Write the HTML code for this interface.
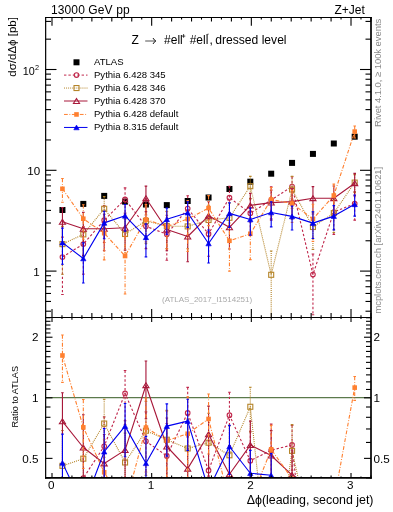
<!DOCTYPE html>
<html><head><meta charset="utf-8"><style>
html,body{margin:0;padding:0;background:#fff;width:393px;height:512px;overflow:hidden}
svg{display:block;will-change:transform;font-family:"Liberation Sans",sans-serif}
text{font-family:"Liberation Sans",sans-serif}
</style></head><body>
<svg width="393" height="512" viewBox="0 0 393 512">
<defs><clipPath id="cm"><rect x="45.5" y="17.5" width="325.5" height="300"/></clipPath><clipPath id="cr"><rect x="45.5" y="317.5" width="325.5" height="160.5"/></clipPath></defs>
<rect width="393" height="512" fill="#fff"/>
<g clip-path="url(#cm)">
<line x1="62.44" y1="208.28" x2="62.44" y2="211.79" stroke="#000" stroke-width="1.12"/>
<rect x="59.44" y="207.00" width="6.0" height="6.0" fill="#000"/>
<line x1="83.31" y1="202.18" x2="83.31" y2="205.69" stroke="#000" stroke-width="1.12"/>
<rect x="80.31" y="200.90" width="6.0" height="6.0" fill="#000"/>
<line x1="104.19" y1="194.18" x2="104.19" y2="197.69" stroke="#000" stroke-width="1.12"/>
<rect x="101.19" y="192.90" width="6.0" height="6.0" fill="#000"/>
<line x1="125.06" y1="199.88" x2="125.06" y2="203.39" stroke="#000" stroke-width="1.12"/>
<rect x="122.06" y="198.60" width="6.0" height="6.0" fill="#000"/>
<line x1="145.94" y1="202.78" x2="145.94" y2="206.29" stroke="#000" stroke-width="1.12"/>
<rect x="142.94" y="201.50" width="6.0" height="6.0" fill="#000"/>
<line x1="166.81" y1="203.38" x2="166.81" y2="206.89" stroke="#000" stroke-width="1.12"/>
<rect x="163.81" y="202.10" width="6.0" height="6.0" fill="#000"/>
<line x1="187.69" y1="199.28" x2="187.69" y2="202.79" stroke="#000" stroke-width="1.12"/>
<rect x="184.69" y="198.00" width="6.0" height="6.0" fill="#000"/>
<line x1="208.56" y1="195.78" x2="208.56" y2="199.29" stroke="#000" stroke-width="1.12"/>
<rect x="205.56" y="194.50" width="6.0" height="6.0" fill="#000"/>
<line x1="229.44" y1="187.28" x2="229.44" y2="190.79" stroke="#000" stroke-width="1.12"/>
<rect x="226.44" y="186.00" width="6.0" height="6.0" fill="#000"/>
<line x1="250.31" y1="179.98" x2="250.31" y2="183.49" stroke="#000" stroke-width="1.12"/>
<rect x="247.31" y="178.70" width="6.0" height="6.0" fill="#000"/>
<line x1="271.19" y1="171.98" x2="271.19" y2="175.49" stroke="#000" stroke-width="1.12"/>
<rect x="268.19" y="170.70" width="6.0" height="6.0" fill="#000"/>
<line x1="292.06" y1="161.18" x2="292.06" y2="164.69" stroke="#000" stroke-width="1.12"/>
<rect x="289.06" y="159.90" width="6.0" height="6.0" fill="#000"/>
<line x1="312.94" y1="152.18" x2="312.94" y2="155.69" stroke="#000" stroke-width="1.12"/>
<rect x="309.94" y="150.90" width="6.0" height="6.0" fill="#000"/>
<line x1="333.81" y1="141.78" x2="333.81" y2="145.29" stroke="#000" stroke-width="1.12"/>
<rect x="330.81" y="140.50" width="6.0" height="6.0" fill="#000"/>
<line x1="354.69" y1="134.98" x2="354.69" y2="138.49" stroke="#000" stroke-width="1.12"/>
<rect x="351.69" y="133.70" width="6.0" height="6.0" fill="#000"/>
<path d="M62.44 257.00 L83.31 244.10 L104.19 220.20 L125.06 199.40 L145.94 226.30 L166.81 234.20 L187.69 208.60 L208.56 233.90 L229.44 197.70 L250.31 213.20 L271.19 200.00 L292.06 186.50 L312.94 274.60 L333.81 212.00 L354.69 203.70" fill="none" stroke="#c0284c" stroke-width="1.12" stroke-dasharray="2.4 2" stroke-linejoin="round"/>
<line x1="62.44" y1="237.09" x2="62.44" y2="294.56" stroke="#c0284c" stroke-width="1.12" stroke-dasharray="2.4 2"/>
<line x1="61.14" y1="237.09" x2="63.74" y2="237.09" stroke="#c0284c" stroke-width="1.12"/>
<line x1="61.14" y1="294.56" x2="63.74" y2="294.56" stroke="#c0284c" stroke-width="1.12"/>
<line x1="83.31" y1="226.47" x2="83.31" y2="274.10" stroke="#c0284c" stroke-width="1.12" stroke-dasharray="2.4 2"/>
<line x1="82.01" y1="226.47" x2="84.61" y2="226.47" stroke="#c0284c" stroke-width="1.12"/>
<line x1="82.01" y1="274.10" x2="84.61" y2="274.10" stroke="#c0284c" stroke-width="1.12"/>
<line x1="104.19" y1="205.47" x2="104.19" y2="242.56" stroke="#c0284c" stroke-width="1.12" stroke-dasharray="2.4 2"/>
<line x1="102.89" y1="205.47" x2="105.49" y2="205.47" stroke="#c0284c" stroke-width="1.12"/>
<line x1="102.89" y1="242.56" x2="105.49" y2="242.56" stroke="#c0284c" stroke-width="1.12"/>
<line x1="125.06" y1="187.91" x2="125.06" y2="215.01" stroke="#c0284c" stroke-width="1.12" stroke-dasharray="2.4 2"/>
<line x1="123.76" y1="187.91" x2="126.36" y2="187.91" stroke="#c0284c" stroke-width="1.12"/>
<line x1="123.76" y1="215.01" x2="126.36" y2="215.01" stroke="#c0284c" stroke-width="1.12"/>
<line x1="145.94" y1="211.57" x2="145.94" y2="248.66" stroke="#c0284c" stroke-width="1.12" stroke-dasharray="2.4 2"/>
<line x1="144.64" y1="211.57" x2="147.24" y2="211.57" stroke="#c0284c" stroke-width="1.12"/>
<line x1="144.64" y1="248.66" x2="147.24" y2="248.66" stroke="#c0284c" stroke-width="1.12"/>
<line x1="166.81" y1="217.99" x2="166.81" y2="260.21" stroke="#c0284c" stroke-width="1.12" stroke-dasharray="2.4 2"/>
<line x1="165.51" y1="217.99" x2="168.11" y2="217.99" stroke="#c0284c" stroke-width="1.12"/>
<line x1="165.51" y1="260.21" x2="168.11" y2="260.21" stroke="#c0284c" stroke-width="1.12"/>
<line x1="187.69" y1="195.79" x2="187.69" y2="226.79" stroke="#c0284c" stroke-width="1.12" stroke-dasharray="2.4 2"/>
<line x1="186.39" y1="195.79" x2="188.99" y2="195.79" stroke="#c0284c" stroke-width="1.12"/>
<line x1="186.39" y1="226.79" x2="188.99" y2="226.79" stroke="#c0284c" stroke-width="1.12"/>
<line x1="208.56" y1="219.17" x2="208.56" y2="256.26" stroke="#c0284c" stroke-width="1.12" stroke-dasharray="2.4 2"/>
<line x1="207.26" y1="219.17" x2="209.86" y2="219.17" stroke="#c0284c" stroke-width="1.12"/>
<line x1="207.26" y1="256.26" x2="209.86" y2="256.26" stroke="#c0284c" stroke-width="1.12"/>
<line x1="229.44" y1="186.21" x2="229.44" y2="213.31" stroke="#c0284c" stroke-width="1.12" stroke-dasharray="2.4 2"/>
<line x1="228.14" y1="186.21" x2="230.74" y2="186.21" stroke="#c0284c" stroke-width="1.12"/>
<line x1="228.14" y1="213.31" x2="230.74" y2="213.31" stroke="#c0284c" stroke-width="1.12"/>
<line x1="250.31" y1="198.47" x2="250.31" y2="235.56" stroke="#c0284c" stroke-width="1.12" stroke-dasharray="2.4 2"/>
<line x1="249.01" y1="198.47" x2="251.61" y2="198.47" stroke="#c0284c" stroke-width="1.12"/>
<line x1="249.01" y1="235.56" x2="251.61" y2="235.56" stroke="#c0284c" stroke-width="1.12"/>
<line x1="271.19" y1="186.86" x2="271.19" y2="218.86" stroke="#c0284c" stroke-width="1.12" stroke-dasharray="2.4 2"/>
<line x1="269.89" y1="186.86" x2="272.49" y2="186.86" stroke="#c0284c" stroke-width="1.12"/>
<line x1="269.89" y1="218.86" x2="272.49" y2="218.86" stroke="#c0284c" stroke-width="1.12"/>
<line x1="292.06" y1="176.70" x2="292.06" y2="199.15" stroke="#c0284c" stroke-width="1.12" stroke-dasharray="2.4 2"/>
<line x1="290.76" y1="176.70" x2="293.36" y2="176.70" stroke="#c0284c" stroke-width="1.12"/>
<line x1="290.76" y1="199.15" x2="293.36" y2="199.15" stroke="#c0284c" stroke-width="1.12"/>
<line x1="312.94" y1="254.02" x2="312.94" y2="314.71" stroke="#c0284c" stroke-width="1.12" stroke-dasharray="2.4 2"/>
<line x1="311.64" y1="254.02" x2="314.24" y2="254.02" stroke="#c0284c" stroke-width="1.12"/>
<line x1="311.64" y1="314.71" x2="314.24" y2="314.71" stroke="#c0284c" stroke-width="1.12"/>
<line x1="333.81" y1="197.27" x2="333.81" y2="234.36" stroke="#c0284c" stroke-width="1.12" stroke-dasharray="2.4 2"/>
<line x1="332.51" y1="197.27" x2="335.11" y2="197.27" stroke="#c0284c" stroke-width="1.12"/>
<line x1="332.51" y1="234.36" x2="335.11" y2="234.36" stroke="#c0284c" stroke-width="1.12"/>
<line x1="354.69" y1="191.78" x2="354.69" y2="220.13" stroke="#c0284c" stroke-width="1.12" stroke-dasharray="2.4 2"/>
<line x1="353.39" y1="191.78" x2="355.99" y2="191.78" stroke="#c0284c" stroke-width="1.12"/>
<line x1="353.39" y1="220.13" x2="355.99" y2="220.13" stroke="#c0284c" stroke-width="1.12"/>
<circle cx="62.44" cy="257.00" r="2.3" fill="none" stroke="#c0284c" stroke-width="1.1"/>
<circle cx="83.31" cy="244.10" r="2.3" fill="none" stroke="#c0284c" stroke-width="1.1"/>
<circle cx="104.19" cy="220.20" r="2.3" fill="none" stroke="#c0284c" stroke-width="1.1"/>
<circle cx="125.06" cy="199.40" r="2.3" fill="none" stroke="#c0284c" stroke-width="1.1"/>
<circle cx="145.94" cy="226.30" r="2.3" fill="none" stroke="#c0284c" stroke-width="1.1"/>
<circle cx="166.81" cy="234.20" r="2.3" fill="none" stroke="#c0284c" stroke-width="1.1"/>
<circle cx="187.69" cy="208.60" r="2.3" fill="none" stroke="#c0284c" stroke-width="1.1"/>
<circle cx="208.56" cy="233.90" r="2.3" fill="none" stroke="#c0284c" stroke-width="1.1"/>
<circle cx="229.44" cy="197.70" r="2.3" fill="none" stroke="#c0284c" stroke-width="1.1"/>
<circle cx="250.31" cy="213.20" r="2.3" fill="none" stroke="#c0284c" stroke-width="1.1"/>
<circle cx="271.19" cy="200.00" r="2.3" fill="none" stroke="#c0284c" stroke-width="1.1"/>
<circle cx="292.06" cy="186.50" r="2.3" fill="none" stroke="#c0284c" stroke-width="1.1"/>
<circle cx="312.94" cy="274.60" r="2.3" fill="none" stroke="#c0284c" stroke-width="1.1"/>
<circle cx="333.81" cy="212.00" r="2.3" fill="none" stroke="#c0284c" stroke-width="1.1"/>
<circle cx="354.69" cy="203.70" r="2.3" fill="none" stroke="#c0284c" stroke-width="1.1"/>
<path d="M62.44 244.10 L83.31 234.40 L104.19 208.80 L125.06 234.00 L145.94 221.00 L166.81 226.10 L187.69 226.40 L208.56 220.00 L229.44 217.80 L250.31 186.20 L271.19 274.80 L292.06 189.50 L312.94 227.00 L333.81 213.10 L354.69 182.60" fill="none" stroke="#b5852a" stroke-width="1.12" stroke-dasharray="1 1.05" stroke-linejoin="round"/>
<line x1="62.44" y1="226.41" x2="62.44" y2="274.27" stroke="#b5852a" stroke-width="1.12" stroke-dasharray="1 1.05"/>
<line x1="61.14" y1="226.41" x2="63.74" y2="226.41" stroke="#b5852a" stroke-width="1.12"/>
<line x1="61.14" y1="274.27" x2="63.74" y2="274.27" stroke="#b5852a" stroke-width="1.12"/>
<line x1="83.31" y1="219.67" x2="83.31" y2="256.76" stroke="#b5852a" stroke-width="1.12" stroke-dasharray="1 1.05"/>
<line x1="82.01" y1="219.67" x2="84.61" y2="219.67" stroke="#b5852a" stroke-width="1.12"/>
<line x1="82.01" y1="256.76" x2="84.61" y2="256.76" stroke="#b5852a" stroke-width="1.12"/>
<line x1="104.19" y1="196.65" x2="104.19" y2="225.68" stroke="#b5852a" stroke-width="1.12" stroke-dasharray="1 1.05"/>
<line x1="102.89" y1="196.65" x2="105.49" y2="196.65" stroke="#b5852a" stroke-width="1.12"/>
<line x1="102.89" y1="225.68" x2="105.49" y2="225.68" stroke="#b5852a" stroke-width="1.12"/>
<line x1="125.06" y1="219.27" x2="125.06" y2="256.36" stroke="#b5852a" stroke-width="1.12" stroke-dasharray="1 1.05"/>
<line x1="123.76" y1="219.27" x2="126.36" y2="219.27" stroke="#b5852a" stroke-width="1.12"/>
<line x1="123.76" y1="256.36" x2="126.36" y2="256.36" stroke="#b5852a" stroke-width="1.12"/>
<line x1="145.94" y1="206.27" x2="145.94" y2="243.36" stroke="#b5852a" stroke-width="1.12" stroke-dasharray="1 1.05"/>
<line x1="144.64" y1="206.27" x2="147.24" y2="206.27" stroke="#b5852a" stroke-width="1.12"/>
<line x1="144.64" y1="243.36" x2="147.24" y2="243.36" stroke="#b5852a" stroke-width="1.12"/>
<line x1="166.81" y1="211.37" x2="166.81" y2="248.46" stroke="#b5852a" stroke-width="1.12" stroke-dasharray="1 1.05"/>
<line x1="165.51" y1="211.37" x2="168.11" y2="211.37" stroke="#b5852a" stroke-width="1.12"/>
<line x1="165.51" y1="248.46" x2="168.11" y2="248.46" stroke="#b5852a" stroke-width="1.12"/>
<line x1="187.69" y1="211.67" x2="187.69" y2="248.76" stroke="#b5852a" stroke-width="1.12" stroke-dasharray="1 1.05"/>
<line x1="186.39" y1="211.67" x2="188.99" y2="211.67" stroke="#b5852a" stroke-width="1.12"/>
<line x1="186.39" y1="248.76" x2="188.99" y2="248.76" stroke="#b5852a" stroke-width="1.12"/>
<line x1="208.56" y1="205.27" x2="208.56" y2="242.36" stroke="#b5852a" stroke-width="1.12" stroke-dasharray="1 1.05"/>
<line x1="207.26" y1="205.27" x2="209.86" y2="205.27" stroke="#b5852a" stroke-width="1.12"/>
<line x1="207.26" y1="242.36" x2="209.86" y2="242.36" stroke="#b5852a" stroke-width="1.12"/>
<line x1="229.44" y1="203.07" x2="229.44" y2="240.16" stroke="#b5852a" stroke-width="1.12" stroke-dasharray="1 1.05"/>
<line x1="228.14" y1="203.07" x2="230.74" y2="203.07" stroke="#b5852a" stroke-width="1.12"/>
<line x1="228.14" y1="240.16" x2="230.74" y2="240.16" stroke="#b5852a" stroke-width="1.12"/>
<line x1="250.31" y1="176.40" x2="250.31" y2="198.85" stroke="#b5852a" stroke-width="1.12" stroke-dasharray="1 1.05"/>
<line x1="249.01" y1="176.40" x2="251.61" y2="176.40" stroke="#b5852a" stroke-width="1.12"/>
<line x1="249.01" y1="198.85" x2="251.61" y2="198.85" stroke="#b5852a" stroke-width="1.12"/>
<line x1="271.19" y1="250.98" x2="271.19" y2="331.00" stroke="#b5852a" stroke-width="1.12" stroke-dasharray="1 1.05"/>
<line x1="269.89" y1="250.98" x2="272.49" y2="250.98" stroke="#b5852a" stroke-width="1.12"/>
<line x1="269.89" y1="331.00" x2="272.49" y2="331.00" stroke="#b5852a" stroke-width="1.12"/>
<line x1="292.06" y1="176.36" x2="292.06" y2="208.36" stroke="#b5852a" stroke-width="1.12" stroke-dasharray="1 1.05"/>
<line x1="290.76" y1="176.36" x2="293.36" y2="176.36" stroke="#b5852a" stroke-width="1.12"/>
<line x1="290.76" y1="208.36" x2="293.36" y2="208.36" stroke="#b5852a" stroke-width="1.12"/>
<line x1="312.94" y1="212.27" x2="312.94" y2="249.36" stroke="#b5852a" stroke-width="1.12" stroke-dasharray="1 1.05"/>
<line x1="311.64" y1="212.27" x2="314.24" y2="212.27" stroke="#b5852a" stroke-width="1.12"/>
<line x1="311.64" y1="249.36" x2="314.24" y2="249.36" stroke="#b5852a" stroke-width="1.12"/>
<line x1="333.81" y1="199.70" x2="333.81" y2="232.50" stroke="#b5852a" stroke-width="1.12" stroke-dasharray="1 1.05"/>
<line x1="332.51" y1="199.70" x2="335.11" y2="199.70" stroke="#b5852a" stroke-width="1.12"/>
<line x1="332.51" y1="232.50" x2="335.11" y2="232.50" stroke="#b5852a" stroke-width="1.12"/>
<line x1="354.69" y1="174.62" x2="354.69" y2="192.37" stroke="#b5852a" stroke-width="1.12" stroke-dasharray="1 1.05"/>
<line x1="353.39" y1="174.62" x2="355.99" y2="174.62" stroke="#b5852a" stroke-width="1.12"/>
<line x1="353.39" y1="192.37" x2="355.99" y2="192.37" stroke="#b5852a" stroke-width="1.12"/>
<rect x="59.94" y="241.60" width="5.0" height="5.0" fill="none" stroke="#b5852a" stroke-width="1.1"/>
<rect x="80.81" y="231.90" width="5.0" height="5.0" fill="none" stroke="#b5852a" stroke-width="1.1"/>
<rect x="101.69" y="206.30" width="5.0" height="5.0" fill="none" stroke="#b5852a" stroke-width="1.1"/>
<rect x="122.56" y="231.50" width="5.0" height="5.0" fill="none" stroke="#b5852a" stroke-width="1.1"/>
<rect x="143.44" y="218.50" width="5.0" height="5.0" fill="none" stroke="#b5852a" stroke-width="1.1"/>
<rect x="164.31" y="223.60" width="5.0" height="5.0" fill="none" stroke="#b5852a" stroke-width="1.1"/>
<rect x="185.19" y="223.90" width="5.0" height="5.0" fill="none" stroke="#b5852a" stroke-width="1.1"/>
<rect x="206.06" y="217.50" width="5.0" height="5.0" fill="none" stroke="#b5852a" stroke-width="1.1"/>
<rect x="226.94" y="215.30" width="5.0" height="5.0" fill="none" stroke="#b5852a" stroke-width="1.1"/>
<rect x="247.81" y="183.70" width="5.0" height="5.0" fill="none" stroke="#b5852a" stroke-width="1.1"/>
<rect x="268.69" y="272.30" width="5.0" height="5.0" fill="none" stroke="#b5852a" stroke-width="1.1"/>
<rect x="289.56" y="187.00" width="5.0" height="5.0" fill="none" stroke="#b5852a" stroke-width="1.1"/>
<rect x="310.44" y="224.50" width="5.0" height="5.0" fill="none" stroke="#b5852a" stroke-width="1.1"/>
<rect x="331.31" y="210.60" width="5.0" height="5.0" fill="none" stroke="#b5852a" stroke-width="1.1"/>
<rect x="352.19" y="180.10" width="5.0" height="5.0" fill="none" stroke="#b5852a" stroke-width="1.1"/>
<path d="M62.44 221.80 L83.31 228.80 L104.19 228.80 L125.06 227.80 L145.94 198.20 L166.81 229.50 L187.69 236.50 L208.56 215.80 L229.44 227.30 L250.31 205.40 L271.19 202.60 L292.06 201.60 L312.94 198.20 L333.81 198.20 L354.69 183.20" fill="none" stroke="#a8183a" stroke-width="1.12" stroke-linejoin="round"/>
<line x1="62.44" y1="207.45" x2="62.44" y2="243.30" stroke="#a8183a" stroke-width="1.12"/>
<line x1="61.14" y1="207.45" x2="63.74" y2="207.45" stroke="#a8183a" stroke-width="1.12"/>
<line x1="61.14" y1="243.30" x2="63.74" y2="243.30" stroke="#a8183a" stroke-width="1.12"/>
<line x1="83.31" y1="212.38" x2="83.31" y2="255.37" stroke="#a8183a" stroke-width="1.12"/>
<line x1="82.01" y1="212.38" x2="84.61" y2="212.38" stroke="#a8183a" stroke-width="1.12"/>
<line x1="82.01" y1="255.37" x2="84.61" y2="255.37" stroke="#a8183a" stroke-width="1.12"/>
<line x1="104.19" y1="214.26" x2="104.19" y2="250.73" stroke="#a8183a" stroke-width="1.12"/>
<line x1="102.89" y1="214.26" x2="105.49" y2="214.26" stroke="#a8183a" stroke-width="1.12"/>
<line x1="102.89" y1="250.73" x2="105.49" y2="250.73" stroke="#a8183a" stroke-width="1.12"/>
<line x1="125.06" y1="213.07" x2="125.06" y2="250.16" stroke="#a8183a" stroke-width="1.12"/>
<line x1="123.76" y1="213.07" x2="126.36" y2="213.07" stroke="#a8183a" stroke-width="1.12"/>
<line x1="123.76" y1="250.16" x2="126.36" y2="250.16" stroke="#a8183a" stroke-width="1.12"/>
<line x1="145.94" y1="186.08" x2="145.94" y2="215.02" stroke="#a8183a" stroke-width="1.12"/>
<line x1="144.64" y1="186.08" x2="147.24" y2="186.08" stroke="#a8183a" stroke-width="1.12"/>
<line x1="144.64" y1="215.02" x2="147.24" y2="215.02" stroke="#a8183a" stroke-width="1.12"/>
<line x1="166.81" y1="215.24" x2="166.81" y2="250.78" stroke="#a8183a" stroke-width="1.12"/>
<line x1="165.51" y1="215.24" x2="168.11" y2="215.24" stroke="#a8183a" stroke-width="1.12"/>
<line x1="165.51" y1="250.78" x2="168.11" y2="250.78" stroke="#a8183a" stroke-width="1.12"/>
<line x1="187.69" y1="220.60" x2="187.69" y2="261.73" stroke="#a8183a" stroke-width="1.12"/>
<line x1="186.39" y1="220.60" x2="188.99" y2="220.60" stroke="#a8183a" stroke-width="1.12"/>
<line x1="186.39" y1="261.73" x2="188.99" y2="261.73" stroke="#a8183a" stroke-width="1.12"/>
<line x1="208.56" y1="201.70" x2="208.56" y2="236.73" stroke="#a8183a" stroke-width="1.12"/>
<line x1="207.26" y1="201.70" x2="209.86" y2="201.70" stroke="#a8183a" stroke-width="1.12"/>
<line x1="207.26" y1="236.73" x2="209.86" y2="236.73" stroke="#a8183a" stroke-width="1.12"/>
<line x1="229.44" y1="212.88" x2="229.44" y2="248.94" stroke="#a8183a" stroke-width="1.12"/>
<line x1="228.14" y1="212.88" x2="230.74" y2="212.88" stroke="#a8183a" stroke-width="1.12"/>
<line x1="228.14" y1="248.94" x2="230.74" y2="248.94" stroke="#a8183a" stroke-width="1.12"/>
<line x1="250.31" y1="193.41" x2="250.31" y2="221.96" stroke="#a8183a" stroke-width="1.12"/>
<line x1="249.01" y1="193.41" x2="251.61" y2="193.41" stroke="#a8183a" stroke-width="1.12"/>
<line x1="249.01" y1="221.96" x2="251.61" y2="221.96" stroke="#a8183a" stroke-width="1.12"/>
<line x1="271.19" y1="190.12" x2="271.19" y2="220.13" stroke="#a8183a" stroke-width="1.12"/>
<line x1="269.89" y1="190.12" x2="272.49" y2="190.12" stroke="#a8183a" stroke-width="1.12"/>
<line x1="269.89" y1="220.13" x2="272.49" y2="220.13" stroke="#a8183a" stroke-width="1.12"/>
<line x1="292.06" y1="189.12" x2="292.06" y2="219.13" stroke="#a8183a" stroke-width="1.12"/>
<line x1="290.76" y1="189.12" x2="293.36" y2="189.12" stroke="#a8183a" stroke-width="1.12"/>
<line x1="290.76" y1="219.13" x2="293.36" y2="219.13" stroke="#a8183a" stroke-width="1.12"/>
<line x1="312.94" y1="186.61" x2="312.94" y2="214.00" stroke="#a8183a" stroke-width="1.12"/>
<line x1="311.64" y1="186.61" x2="314.24" y2="186.61" stroke="#a8183a" stroke-width="1.12"/>
<line x1="311.64" y1="214.00" x2="314.24" y2="214.00" stroke="#a8183a" stroke-width="1.12"/>
<line x1="333.81" y1="186.05" x2="333.81" y2="215.08" stroke="#a8183a" stroke-width="1.12"/>
<line x1="332.51" y1="186.05" x2="335.11" y2="186.05" stroke="#a8183a" stroke-width="1.12"/>
<line x1="332.51" y1="215.08" x2="335.11" y2="215.08" stroke="#a8183a" stroke-width="1.12"/>
<line x1="354.69" y1="173.40" x2="354.69" y2="195.85" stroke="#a8183a" stroke-width="1.12"/>
<line x1="353.39" y1="173.40" x2="355.99" y2="173.40" stroke="#a8183a" stroke-width="1.12"/>
<line x1="353.39" y1="195.85" x2="355.99" y2="195.85" stroke="#a8183a" stroke-width="1.12"/>
<path d="M62.44 219.35 L65.49 224.25 L59.39 224.25 Z" fill="none" stroke="#a8183a" stroke-width="1.1" stroke-linejoin="miter"/>
<path d="M83.31 226.35 L86.36 231.25 L80.26 231.25 Z" fill="none" stroke="#a8183a" stroke-width="1.1" stroke-linejoin="miter"/>
<path d="M104.19 226.35 L107.24 231.25 L101.14 231.25 Z" fill="none" stroke="#a8183a" stroke-width="1.1" stroke-linejoin="miter"/>
<path d="M125.06 225.35 L128.11 230.25 L122.01 230.25 Z" fill="none" stroke="#a8183a" stroke-width="1.1" stroke-linejoin="miter"/>
<path d="M145.94 195.75 L148.99 200.65 L142.89 200.65 Z" fill="none" stroke="#a8183a" stroke-width="1.1" stroke-linejoin="miter"/>
<path d="M166.81 227.05 L169.86 231.95 L163.76 231.95 Z" fill="none" stroke="#a8183a" stroke-width="1.1" stroke-linejoin="miter"/>
<path d="M187.69 234.05 L190.74 238.95 L184.64 238.95 Z" fill="none" stroke="#a8183a" stroke-width="1.1" stroke-linejoin="miter"/>
<path d="M208.56 213.35 L211.61 218.25 L205.51 218.25 Z" fill="none" stroke="#a8183a" stroke-width="1.1" stroke-linejoin="miter"/>
<path d="M229.44 224.85 L232.49 229.75 L226.39 229.75 Z" fill="none" stroke="#a8183a" stroke-width="1.1" stroke-linejoin="miter"/>
<path d="M250.31 202.95 L253.36 207.85 L247.26 207.85 Z" fill="none" stroke="#a8183a" stroke-width="1.1" stroke-linejoin="miter"/>
<path d="M271.19 200.15 L274.24 205.05 L268.14 205.05 Z" fill="none" stroke="#a8183a" stroke-width="1.1" stroke-linejoin="miter"/>
<path d="M292.06 199.15 L295.11 204.05 L289.01 204.05 Z" fill="none" stroke="#a8183a" stroke-width="1.1" stroke-linejoin="miter"/>
<path d="M312.94 195.75 L315.99 200.65 L309.89 200.65 Z" fill="none" stroke="#a8183a" stroke-width="1.1" stroke-linejoin="miter"/>
<path d="M333.81 195.75 L336.86 200.65 L330.76 200.65 Z" fill="none" stroke="#a8183a" stroke-width="1.1" stroke-linejoin="miter"/>
<path d="M354.69 180.75 L357.74 185.65 L351.64 185.65 Z" fill="none" stroke="#a8183a" stroke-width="1.1" stroke-linejoin="miter"/>
<path d="M62.44 188.80 L83.31 218.70 L104.19 233.20 L125.06 256.00 L145.94 219.40 L166.81 226.50 L187.69 219.00 L208.56 208.10 L229.44 240.80 L250.31 233.80 L271.19 199.50 L292.06 203.50 L312.94 219.00 L333.81 195.50 L354.69 131.60" fill="none" stroke="#ff8030" stroke-width="1.12" stroke-dasharray="3.8 1.6 0.9 1.6" stroke-linejoin="round"/>
<line x1="62.44" y1="178.51" x2="62.44" y2="202.28" stroke="#ff8030" stroke-width="1.12" stroke-dasharray="3.8 1.6 0.9 1.6"/>
<line x1="61.14" y1="178.51" x2="63.74" y2="178.51" stroke="#ff8030" stroke-width="1.12"/>
<line x1="61.14" y1="202.28" x2="63.74" y2="202.28" stroke="#ff8030" stroke-width="1.12"/>
<line x1="83.31" y1="204.76" x2="83.31" y2="239.28" stroke="#ff8030" stroke-width="1.12" stroke-dasharray="3.8 1.6 0.9 1.6"/>
<line x1="82.01" y1="204.76" x2="84.61" y2="204.76" stroke="#ff8030" stroke-width="1.12"/>
<line x1="82.01" y1="239.28" x2="84.61" y2="239.28" stroke="#ff8030" stroke-width="1.12"/>
<line x1="104.19" y1="216.72" x2="104.19" y2="259.93" stroke="#ff8030" stroke-width="1.12" stroke-dasharray="3.8 1.6 0.9 1.6"/>
<line x1="102.89" y1="216.72" x2="105.49" y2="216.72" stroke="#ff8030" stroke-width="1.12"/>
<line x1="102.89" y1="259.93" x2="105.49" y2="259.93" stroke="#ff8030" stroke-width="1.12"/>
<line x1="125.06" y1="235.98" x2="125.06" y2="293.98" stroke="#ff8030" stroke-width="1.12" stroke-dasharray="3.8 1.6 0.9 1.6"/>
<line x1="123.76" y1="235.98" x2="126.36" y2="235.98" stroke="#ff8030" stroke-width="1.12"/>
<line x1="123.76" y1="293.98" x2="126.36" y2="293.98" stroke="#ff8030" stroke-width="1.12"/>
<line x1="145.94" y1="204.67" x2="145.94" y2="241.76" stroke="#ff8030" stroke-width="1.12" stroke-dasharray="3.8 1.6 0.9 1.6"/>
<line x1="144.64" y1="204.67" x2="147.24" y2="204.67" stroke="#ff8030" stroke-width="1.12"/>
<line x1="144.64" y1="241.76" x2="147.24" y2="241.76" stroke="#ff8030" stroke-width="1.12"/>
<line x1="166.81" y1="211.77" x2="166.81" y2="248.86" stroke="#ff8030" stroke-width="1.12" stroke-dasharray="3.8 1.6 0.9 1.6"/>
<line x1="165.51" y1="211.77" x2="168.11" y2="211.77" stroke="#ff8030" stroke-width="1.12"/>
<line x1="165.51" y1="248.86" x2="168.11" y2="248.86" stroke="#ff8030" stroke-width="1.12"/>
<line x1="187.69" y1="200.56" x2="187.69" y2="251.50" stroke="#ff8030" stroke-width="1.12" stroke-dasharray="3.8 1.6 0.9 1.6"/>
<line x1="186.39" y1="200.56" x2="188.99" y2="200.56" stroke="#ff8030" stroke-width="1.12"/>
<line x1="186.39" y1="251.50" x2="188.99" y2="251.50" stroke="#ff8030" stroke-width="1.12"/>
<line x1="208.56" y1="195.62" x2="208.56" y2="225.63" stroke="#ff8030" stroke-width="1.12" stroke-dasharray="3.8 1.6 0.9 1.6"/>
<line x1="207.26" y1="195.62" x2="209.86" y2="195.62" stroke="#ff8030" stroke-width="1.12"/>
<line x1="207.26" y1="225.63" x2="209.86" y2="225.63" stroke="#ff8030" stroke-width="1.12"/>
<line x1="229.44" y1="223.05" x2="229.44" y2="271.14" stroke="#ff8030" stroke-width="1.12" stroke-dasharray="3.8 1.6 0.9 1.6"/>
<line x1="228.14" y1="223.05" x2="230.74" y2="223.05" stroke="#ff8030" stroke-width="1.12"/>
<line x1="228.14" y1="271.14" x2="230.74" y2="271.14" stroke="#ff8030" stroke-width="1.12"/>
<line x1="250.31" y1="217.69" x2="250.31" y2="259.58" stroke="#ff8030" stroke-width="1.12" stroke-dasharray="3.8 1.6 0.9 1.6"/>
<line x1="249.01" y1="217.69" x2="251.61" y2="217.69" stroke="#ff8030" stroke-width="1.12"/>
<line x1="249.01" y1="259.58" x2="251.61" y2="259.58" stroke="#ff8030" stroke-width="1.12"/>
<line x1="271.19" y1="187.51" x2="271.19" y2="216.06" stroke="#ff8030" stroke-width="1.12" stroke-dasharray="3.8 1.6 0.9 1.6"/>
<line x1="269.89" y1="187.51" x2="272.49" y2="187.51" stroke="#ff8030" stroke-width="1.12"/>
<line x1="269.89" y1="216.06" x2="272.49" y2="216.06" stroke="#ff8030" stroke-width="1.12"/>
<line x1="292.06" y1="190.36" x2="292.06" y2="222.36" stroke="#ff8030" stroke-width="1.12" stroke-dasharray="3.8 1.6 0.9 1.6"/>
<line x1="290.76" y1="190.36" x2="293.36" y2="190.36" stroke="#ff8030" stroke-width="1.12"/>
<line x1="290.76" y1="222.36" x2="293.36" y2="222.36" stroke="#ff8030" stroke-width="1.12"/>
<line x1="312.94" y1="204.27" x2="312.94" y2="241.36" stroke="#ff8030" stroke-width="1.12" stroke-dasharray="3.8 1.6 0.9 1.6"/>
<line x1="311.64" y1="204.27" x2="314.24" y2="204.27" stroke="#ff8030" stroke-width="1.12"/>
<line x1="311.64" y1="241.36" x2="314.24" y2="241.36" stroke="#ff8030" stroke-width="1.12"/>
<line x1="333.81" y1="184.08" x2="333.81" y2="210.99" stroke="#ff8030" stroke-width="1.12" stroke-dasharray="3.8 1.6 0.9 1.6"/>
<line x1="332.51" y1="184.08" x2="335.11" y2="184.08" stroke="#ff8030" stroke-width="1.12"/>
<line x1="332.51" y1="210.99" x2="335.11" y2="210.99" stroke="#ff8030" stroke-width="1.12"/>
<line x1="354.69" y1="126.02" x2="354.69" y2="138.00" stroke="#ff8030" stroke-width="1.12" stroke-dasharray="3.8 1.6 0.9 1.6"/>
<line x1="353.39" y1="126.02" x2="355.99" y2="126.02" stroke="#ff8030" stroke-width="1.12"/>
<line x1="353.39" y1="138.00" x2="355.99" y2="138.00" stroke="#ff8030" stroke-width="1.12"/>
<rect x="60.14" y="186.50" width="4.6" height="4.6" fill="#ff8030"/>
<rect x="81.01" y="216.40" width="4.6" height="4.6" fill="#ff8030"/>
<rect x="101.89" y="230.90" width="4.6" height="4.6" fill="#ff8030"/>
<rect x="122.76" y="253.70" width="4.6" height="4.6" fill="#ff8030"/>
<rect x="143.64" y="217.10" width="4.6" height="4.6" fill="#ff8030"/>
<rect x="164.51" y="224.20" width="4.6" height="4.6" fill="#ff8030"/>
<rect x="185.39" y="216.70" width="4.6" height="4.6" fill="#ff8030"/>
<rect x="206.26" y="205.80" width="4.6" height="4.6" fill="#ff8030"/>
<rect x="227.14" y="238.50" width="4.6" height="4.6" fill="#ff8030"/>
<rect x="248.01" y="231.50" width="4.6" height="4.6" fill="#ff8030"/>
<rect x="268.89" y="197.20" width="4.6" height="4.6" fill="#ff8030"/>
<rect x="289.76" y="201.20" width="4.6" height="4.6" fill="#ff8030"/>
<rect x="310.64" y="216.70" width="4.6" height="4.6" fill="#ff8030"/>
<rect x="331.51" y="193.20" width="4.6" height="4.6" fill="#ff8030"/>
<rect x="352.39" y="129.30" width="4.6" height="4.6" fill="#ff8030"/>
<path d="M62.44 242.60 L83.31 258.50 L104.19 222.90 L125.06 215.80 L145.94 237.30 L166.81 219.30 L187.69 212.70 L208.56 243.50 L229.44 213.40 L250.31 219.50 L271.19 212.50 L292.06 216.40 L312.94 223.10 L333.81 216.10 L354.69 204.30" fill="none" stroke="#0000f0" stroke-width="1.12" stroke-linejoin="round"/>
<line x1="62.44" y1="228.18" x2="62.44" y2="264.24" stroke="#0000f0" stroke-width="1.12"/>
<line x1="61.14" y1="228.18" x2="63.74" y2="228.18" stroke="#0000f0" stroke-width="1.12"/>
<line x1="61.14" y1="264.24" x2="63.74" y2="264.24" stroke="#0000f0" stroke-width="1.12"/>
<line x1="83.31" y1="242.90" x2="83.31" y2="282.95" stroke="#0000f0" stroke-width="1.12"/>
<line x1="82.01" y1="242.90" x2="84.61" y2="242.90" stroke="#0000f0" stroke-width="1.12"/>
<line x1="82.01" y1="282.95" x2="84.61" y2="282.95" stroke="#0000f0" stroke-width="1.12"/>
<line x1="104.19" y1="211.31" x2="104.19" y2="238.70" stroke="#0000f0" stroke-width="1.12"/>
<line x1="102.89" y1="211.31" x2="105.49" y2="211.31" stroke="#0000f0" stroke-width="1.12"/>
<line x1="102.89" y1="238.70" x2="105.49" y2="238.70" stroke="#0000f0" stroke-width="1.12"/>
<line x1="125.06" y1="204.48" x2="125.06" y2="231.10" stroke="#0000f0" stroke-width="1.12"/>
<line x1="123.76" y1="204.48" x2="126.36" y2="204.48" stroke="#0000f0" stroke-width="1.12"/>
<line x1="123.76" y1="231.10" x2="126.36" y2="231.10" stroke="#0000f0" stroke-width="1.12"/>
<line x1="145.94" y1="223.84" x2="145.94" y2="256.84" stroke="#0000f0" stroke-width="1.12"/>
<line x1="144.64" y1="223.84" x2="147.24" y2="223.84" stroke="#0000f0" stroke-width="1.12"/>
<line x1="144.64" y1="256.84" x2="147.24" y2="256.84" stroke="#0000f0" stroke-width="1.12"/>
<line x1="166.81" y1="208.15" x2="166.81" y2="234.29" stroke="#0000f0" stroke-width="1.12"/>
<line x1="165.51" y1="208.15" x2="168.11" y2="208.15" stroke="#0000f0" stroke-width="1.12"/>
<line x1="165.51" y1="234.29" x2="168.11" y2="234.29" stroke="#0000f0" stroke-width="1.12"/>
<line x1="187.69" y1="201.72" x2="187.69" y2="227.39" stroke="#0000f0" stroke-width="1.12"/>
<line x1="186.39" y1="201.72" x2="188.99" y2="201.72" stroke="#0000f0" stroke-width="1.12"/>
<line x1="186.39" y1="227.39" x2="188.99" y2="227.39" stroke="#0000f0" stroke-width="1.12"/>
<line x1="208.56" y1="230.04" x2="208.56" y2="263.04" stroke="#0000f0" stroke-width="1.12"/>
<line x1="207.26" y1="230.04" x2="209.86" y2="230.04" stroke="#0000f0" stroke-width="1.12"/>
<line x1="207.26" y1="263.04" x2="209.86" y2="263.04" stroke="#0000f0" stroke-width="1.12"/>
<line x1="229.44" y1="202.80" x2="229.44" y2="227.42" stroke="#0000f0" stroke-width="1.12"/>
<line x1="228.14" y1="202.80" x2="230.74" y2="202.80" stroke="#0000f0" stroke-width="1.12"/>
<line x1="228.14" y1="227.42" x2="230.74" y2="227.42" stroke="#0000f0" stroke-width="1.12"/>
<line x1="250.31" y1="208.01" x2="250.31" y2="235.11" stroke="#0000f0" stroke-width="1.12"/>
<line x1="249.01" y1="208.01" x2="251.61" y2="208.01" stroke="#0000f0" stroke-width="1.12"/>
<line x1="249.01" y1="235.11" x2="251.61" y2="235.11" stroke="#0000f0" stroke-width="1.12"/>
<line x1="271.19" y1="201.69" x2="271.19" y2="226.88" stroke="#0000f0" stroke-width="1.12"/>
<line x1="269.89" y1="201.69" x2="272.49" y2="201.69" stroke="#0000f0" stroke-width="1.12"/>
<line x1="269.89" y1="226.88" x2="272.49" y2="226.88" stroke="#0000f0" stroke-width="1.12"/>
<line x1="292.06" y1="206.07" x2="292.06" y2="229.94" stroke="#0000f0" stroke-width="1.12"/>
<line x1="290.76" y1="206.07" x2="293.36" y2="206.07" stroke="#0000f0" stroke-width="1.12"/>
<line x1="290.76" y1="229.94" x2="293.36" y2="229.94" stroke="#0000f0" stroke-width="1.12"/>
<line x1="312.94" y1="211.72" x2="312.94" y2="238.53" stroke="#0000f0" stroke-width="1.12"/>
<line x1="311.64" y1="211.72" x2="314.24" y2="211.72" stroke="#0000f0" stroke-width="1.12"/>
<line x1="311.64" y1="238.53" x2="314.24" y2="238.53" stroke="#0000f0" stroke-width="1.12"/>
<line x1="333.81" y1="205.64" x2="333.81" y2="229.88" stroke="#0000f0" stroke-width="1.12"/>
<line x1="332.51" y1="205.64" x2="335.11" y2="205.64" stroke="#0000f0" stroke-width="1.12"/>
<line x1="332.51" y1="229.88" x2="335.11" y2="229.88" stroke="#0000f0" stroke-width="1.12"/>
<line x1="354.69" y1="194.99" x2="354.69" y2="216.14" stroke="#0000f0" stroke-width="1.12"/>
<line x1="353.39" y1="194.99" x2="355.99" y2="194.99" stroke="#0000f0" stroke-width="1.12"/>
<line x1="353.39" y1="216.14" x2="355.99" y2="216.14" stroke="#0000f0" stroke-width="1.12"/>
<path d="M62.44 240.25 L65.14 244.95 L59.74 244.95 Z" fill="#0000f0" stroke="#0000f0" stroke-width="0.6"/>
<path d="M83.31 256.15 L86.01 260.85 L80.61 260.85 Z" fill="#0000f0" stroke="#0000f0" stroke-width="0.6"/>
<path d="M104.19 220.55 L106.89 225.25 L101.49 225.25 Z" fill="#0000f0" stroke="#0000f0" stroke-width="0.6"/>
<path d="M125.06 213.45 L127.76 218.15 L122.36 218.15 Z" fill="#0000f0" stroke="#0000f0" stroke-width="0.6"/>
<path d="M145.94 234.95 L148.64 239.65 L143.24 239.65 Z" fill="#0000f0" stroke="#0000f0" stroke-width="0.6"/>
<path d="M166.81 216.95 L169.51 221.65 L164.11 221.65 Z" fill="#0000f0" stroke="#0000f0" stroke-width="0.6"/>
<path d="M187.69 210.35 L190.39 215.05 L184.99 215.05 Z" fill="#0000f0" stroke="#0000f0" stroke-width="0.6"/>
<path d="M208.56 241.15 L211.26 245.85 L205.86 245.85 Z" fill="#0000f0" stroke="#0000f0" stroke-width="0.6"/>
<path d="M229.44 211.05 L232.14 215.75 L226.74 215.75 Z" fill="#0000f0" stroke="#0000f0" stroke-width="0.6"/>
<path d="M250.31 217.15 L253.01 221.85 L247.61 221.85 Z" fill="#0000f0" stroke="#0000f0" stroke-width="0.6"/>
<path d="M271.19 210.15 L273.89 214.85 L268.49 214.85 Z" fill="#0000f0" stroke="#0000f0" stroke-width="0.6"/>
<path d="M292.06 214.05 L294.76 218.75 L289.36 218.75 Z" fill="#0000f0" stroke="#0000f0" stroke-width="0.6"/>
<path d="M312.94 220.75 L315.64 225.45 L310.24 225.45 Z" fill="#0000f0" stroke="#0000f0" stroke-width="0.6"/>
<path d="M333.81 213.75 L336.51 218.45 L331.11 218.45 Z" fill="#0000f0" stroke="#0000f0" stroke-width="0.6"/>
<path d="M354.69 201.95 L357.39 206.65 L351.99 206.65 Z" fill="#0000f0" stroke="#0000f0" stroke-width="0.6"/>
</g>
<g clip-path="url(#cr)">
<line x1="45.5" y1="397.6" x2="371" y2="397.6" stroke="#5b7a4c" stroke-width="1.3"/>
<path d="M62.44 491.61 L83.31 478.04 L104.19 446.30 L125.06 393.41 L145.94 441.31 L166.81 455.88 L187.69 412.97 L208.56 470.46 L229.44 415.17 L250.31 460.68 L271.19 450.30 L292.06 444.91 L312.94 638.72 L333.81 534.53 L354.69 531.53" fill="none" stroke="#c0284c" stroke-width="1.12" stroke-dasharray="2.4 2" stroke-linejoin="round"/>
<line x1="104.19" y1="416.90" x2="104.19" y2="490.94" stroke="#c0284c" stroke-width="1.12" stroke-dasharray="2.4 2"/>
<line x1="102.89" y1="416.90" x2="105.49" y2="416.90" stroke="#c0284c" stroke-width="1.12"/>
<line x1="102.89" y1="490.94" x2="105.49" y2="490.94" stroke="#c0284c" stroke-width="1.12"/>
<line x1="125.06" y1="370.48" x2="125.06" y2="424.58" stroke="#c0284c" stroke-width="1.12" stroke-dasharray="2.4 2"/>
<line x1="123.76" y1="370.48" x2="126.36" y2="370.48" stroke="#c0284c" stroke-width="1.12"/>
<line x1="123.76" y1="424.58" x2="126.36" y2="424.58" stroke="#c0284c" stroke-width="1.12"/>
<line x1="145.94" y1="411.91" x2="145.94" y2="485.95" stroke="#c0284c" stroke-width="1.12" stroke-dasharray="2.4 2"/>
<line x1="144.64" y1="411.91" x2="147.24" y2="411.91" stroke="#c0284c" stroke-width="1.12"/>
<line x1="144.64" y1="485.95" x2="147.24" y2="485.95" stroke="#c0284c" stroke-width="1.12"/>
<line x1="166.81" y1="423.54" x2="166.81" y2="507.81" stroke="#c0284c" stroke-width="1.12" stroke-dasharray="2.4 2"/>
<line x1="165.51" y1="423.54" x2="168.11" y2="423.54" stroke="#c0284c" stroke-width="1.12"/>
<line x1="165.51" y1="507.81" x2="168.11" y2="507.81" stroke="#c0284c" stroke-width="1.12"/>
<line x1="187.69" y1="387.40" x2="187.69" y2="449.28" stroke="#c0284c" stroke-width="1.12" stroke-dasharray="2.4 2"/>
<line x1="186.39" y1="387.40" x2="188.99" y2="387.40" stroke="#c0284c" stroke-width="1.12"/>
<line x1="186.39" y1="449.28" x2="188.99" y2="449.28" stroke="#c0284c" stroke-width="1.12"/>
<line x1="208.56" y1="441.05" x2="208.56" y2="515.09" stroke="#c0284c" stroke-width="1.12" stroke-dasharray="2.4 2"/>
<line x1="207.26" y1="441.05" x2="209.86" y2="441.05" stroke="#c0284c" stroke-width="1.12"/>
<line x1="207.26" y1="515.09" x2="209.86" y2="515.09" stroke="#c0284c" stroke-width="1.12"/>
<line x1="229.44" y1="392.24" x2="229.44" y2="446.33" stroke="#c0284c" stroke-width="1.12" stroke-dasharray="2.4 2"/>
<line x1="228.14" y1="392.24" x2="230.74" y2="392.24" stroke="#c0284c" stroke-width="1.12"/>
<line x1="228.14" y1="446.33" x2="230.74" y2="446.33" stroke="#c0284c" stroke-width="1.12"/>
<line x1="250.31" y1="431.27" x2="250.31" y2="505.31" stroke="#c0284c" stroke-width="1.12" stroke-dasharray="2.4 2"/>
<line x1="249.01" y1="431.27" x2="251.61" y2="431.27" stroke="#c0284c" stroke-width="1.12"/>
<line x1="249.01" y1="505.31" x2="251.61" y2="505.31" stroke="#c0284c" stroke-width="1.12"/>
<line x1="271.19" y1="424.07" x2="271.19" y2="487.94" stroke="#c0284c" stroke-width="1.12" stroke-dasharray="2.4 2"/>
<line x1="269.89" y1="424.07" x2="272.49" y2="424.07" stroke="#c0284c" stroke-width="1.12"/>
<line x1="269.89" y1="487.94" x2="272.49" y2="487.94" stroke="#c0284c" stroke-width="1.12"/>
<line x1="292.06" y1="425.34" x2="292.06" y2="470.16" stroke="#c0284c" stroke-width="1.12" stroke-dasharray="2.4 2"/>
<line x1="290.76" y1="425.34" x2="293.36" y2="425.34" stroke="#c0284c" stroke-width="1.12"/>
<line x1="290.76" y1="470.16" x2="293.36" y2="470.16" stroke="#c0284c" stroke-width="1.12"/>
<circle cx="62.44" cy="491.61" r="2.3" fill="none" stroke="#c0284c" stroke-width="1.1"/>
<circle cx="83.31" cy="478.04" r="2.3" fill="none" stroke="#c0284c" stroke-width="1.1"/>
<circle cx="104.19" cy="446.30" r="2.3" fill="none" stroke="#c0284c" stroke-width="1.1"/>
<circle cx="125.06" cy="393.41" r="2.3" fill="none" stroke="#c0284c" stroke-width="1.1"/>
<circle cx="145.94" cy="441.31" r="2.3" fill="none" stroke="#c0284c" stroke-width="1.1"/>
<circle cx="166.81" cy="455.88" r="2.3" fill="none" stroke="#c0284c" stroke-width="1.1"/>
<circle cx="187.69" cy="412.97" r="2.3" fill="none" stroke="#c0284c" stroke-width="1.1"/>
<circle cx="208.56" cy="470.46" r="2.3" fill="none" stroke="#c0284c" stroke-width="1.1"/>
<circle cx="229.44" cy="415.17" r="2.3" fill="none" stroke="#c0284c" stroke-width="1.1"/>
<circle cx="250.31" cy="460.68" r="2.3" fill="none" stroke="#c0284c" stroke-width="1.1"/>
<circle cx="271.19" cy="450.30" r="2.3" fill="none" stroke="#c0284c" stroke-width="1.1"/>
<circle cx="292.06" cy="444.91" r="2.3" fill="none" stroke="#c0284c" stroke-width="1.1"/>
<circle cx="312.94" cy="638.72" r="2.3" fill="none" stroke="#c0284c" stroke-width="1.1"/>
<circle cx="333.81" cy="534.53" r="2.3" fill="none" stroke="#c0284c" stroke-width="1.1"/>
<circle cx="354.69" cy="531.53" r="2.3" fill="none" stroke="#c0284c" stroke-width="1.1"/>
<path d="M62.44 465.86 L83.31 458.68 L104.19 423.55 L125.06 462.47 L145.94 430.73 L166.81 439.72 L187.69 448.50 L208.56 442.71 L229.44 455.29 L250.31 406.78 L271.19 599.60 L292.06 450.89 L312.94 543.71 L333.81 536.72 L354.69 489.42" fill="none" stroke="#b5852a" stroke-width="1.12" stroke-dasharray="1 1.05" stroke-linejoin="round"/>
<line x1="62.44" y1="430.55" x2="62.44" y2="526.08" stroke="#b5852a" stroke-width="1.12" stroke-dasharray="1 1.05"/>
<line x1="61.14" y1="430.55" x2="63.74" y2="430.55" stroke="#b5852a" stroke-width="1.12"/>
<line x1="61.14" y1="526.08" x2="63.74" y2="526.08" stroke="#b5852a" stroke-width="1.12"/>
<line x1="83.31" y1="429.28" x2="83.31" y2="503.31" stroke="#b5852a" stroke-width="1.12" stroke-dasharray="1 1.05"/>
<line x1="82.01" y1="429.28" x2="84.61" y2="429.28" stroke="#b5852a" stroke-width="1.12"/>
<line x1="82.01" y1="503.31" x2="84.61" y2="503.31" stroke="#b5852a" stroke-width="1.12"/>
<line x1="104.19" y1="399.29" x2="104.19" y2="457.25" stroke="#b5852a" stroke-width="1.12" stroke-dasharray="1 1.05"/>
<line x1="102.89" y1="399.29" x2="105.49" y2="399.29" stroke="#b5852a" stroke-width="1.12"/>
<line x1="102.89" y1="457.25" x2="105.49" y2="457.25" stroke="#b5852a" stroke-width="1.12"/>
<line x1="125.06" y1="433.07" x2="125.06" y2="507.11" stroke="#b5852a" stroke-width="1.12" stroke-dasharray="1 1.05"/>
<line x1="123.76" y1="433.07" x2="126.36" y2="433.07" stroke="#b5852a" stroke-width="1.12"/>
<line x1="123.76" y1="507.11" x2="126.36" y2="507.11" stroke="#b5852a" stroke-width="1.12"/>
<line x1="145.94" y1="401.33" x2="145.94" y2="475.37" stroke="#b5852a" stroke-width="1.12" stroke-dasharray="1 1.05"/>
<line x1="144.64" y1="401.33" x2="147.24" y2="401.33" stroke="#b5852a" stroke-width="1.12"/>
<line x1="144.64" y1="475.37" x2="147.24" y2="475.37" stroke="#b5852a" stroke-width="1.12"/>
<line x1="166.81" y1="410.32" x2="166.81" y2="484.35" stroke="#b5852a" stroke-width="1.12" stroke-dasharray="1 1.05"/>
<line x1="165.51" y1="410.32" x2="168.11" y2="410.32" stroke="#b5852a" stroke-width="1.12"/>
<line x1="165.51" y1="484.35" x2="168.11" y2="484.35" stroke="#b5852a" stroke-width="1.12"/>
<line x1="187.69" y1="419.10" x2="187.69" y2="493.14" stroke="#b5852a" stroke-width="1.12" stroke-dasharray="1 1.05"/>
<line x1="186.39" y1="419.10" x2="188.99" y2="419.10" stroke="#b5852a" stroke-width="1.12"/>
<line x1="186.39" y1="493.14" x2="188.99" y2="493.14" stroke="#b5852a" stroke-width="1.12"/>
<line x1="208.56" y1="413.31" x2="208.56" y2="487.35" stroke="#b5852a" stroke-width="1.12" stroke-dasharray="1 1.05"/>
<line x1="207.26" y1="413.31" x2="209.86" y2="413.31" stroke="#b5852a" stroke-width="1.12"/>
<line x1="207.26" y1="487.35" x2="209.86" y2="487.35" stroke="#b5852a" stroke-width="1.12"/>
<line x1="229.44" y1="425.88" x2="229.44" y2="499.92" stroke="#b5852a" stroke-width="1.12" stroke-dasharray="1 1.05"/>
<line x1="228.14" y1="425.88" x2="230.74" y2="425.88" stroke="#b5852a" stroke-width="1.12"/>
<line x1="228.14" y1="499.92" x2="230.74" y2="499.92" stroke="#b5852a" stroke-width="1.12"/>
<line x1="250.31" y1="387.21" x2="250.31" y2="432.04" stroke="#b5852a" stroke-width="1.12" stroke-dasharray="1 1.05"/>
<line x1="249.01" y1="387.21" x2="251.61" y2="387.21" stroke="#b5852a" stroke-width="1.12"/>
<line x1="249.01" y1="432.04" x2="251.61" y2="432.04" stroke="#b5852a" stroke-width="1.12"/>
<line x1="292.06" y1="424.67" x2="292.06" y2="488.54" stroke="#b5852a" stroke-width="1.12" stroke-dasharray="1 1.05"/>
<line x1="290.76" y1="424.67" x2="293.36" y2="424.67" stroke="#b5852a" stroke-width="1.12"/>
<line x1="290.76" y1="488.54" x2="293.36" y2="488.54" stroke="#b5852a" stroke-width="1.12"/>
<rect x="59.94" y="463.36" width="5.0" height="5.0" fill="none" stroke="#b5852a" stroke-width="1.1"/>
<rect x="80.81" y="456.18" width="5.0" height="5.0" fill="none" stroke="#b5852a" stroke-width="1.1"/>
<rect x="101.69" y="421.05" width="5.0" height="5.0" fill="none" stroke="#b5852a" stroke-width="1.1"/>
<rect x="122.56" y="459.97" width="5.0" height="5.0" fill="none" stroke="#b5852a" stroke-width="1.1"/>
<rect x="143.44" y="428.23" width="5.0" height="5.0" fill="none" stroke="#b5852a" stroke-width="1.1"/>
<rect x="164.31" y="437.22" width="5.0" height="5.0" fill="none" stroke="#b5852a" stroke-width="1.1"/>
<rect x="185.19" y="446.00" width="5.0" height="5.0" fill="none" stroke="#b5852a" stroke-width="1.1"/>
<rect x="206.06" y="440.21" width="5.0" height="5.0" fill="none" stroke="#b5852a" stroke-width="1.1"/>
<rect x="226.94" y="452.79" width="5.0" height="5.0" fill="none" stroke="#b5852a" stroke-width="1.1"/>
<rect x="247.81" y="404.28" width="5.0" height="5.0" fill="none" stroke="#b5852a" stroke-width="1.1"/>
<rect x="268.69" y="597.10" width="5.0" height="5.0" fill="none" stroke="#b5852a" stroke-width="1.1"/>
<rect x="289.56" y="448.39" width="5.0" height="5.0" fill="none" stroke="#b5852a" stroke-width="1.1"/>
<rect x="310.44" y="541.21" width="5.0" height="5.0" fill="none" stroke="#b5852a" stroke-width="1.1"/>
<rect x="331.31" y="534.22" width="5.0" height="5.0" fill="none" stroke="#b5852a" stroke-width="1.1"/>
<rect x="352.19" y="486.92" width="5.0" height="5.0" fill="none" stroke="#b5852a" stroke-width="1.1"/>
<path d="M62.44 421.35 L83.31 447.50 L104.19 463.47 L125.06 450.10 L145.94 385.22 L166.81 446.50 L187.69 468.66 L208.56 434.33 L229.44 474.25 L250.31 445.11 L271.19 455.49 L292.06 475.05 L312.94 486.22 L333.81 506.98 L354.69 490.62" fill="none" stroke="#a8183a" stroke-width="1.12" stroke-linejoin="round"/>
<line x1="62.44" y1="392.70" x2="62.44" y2="464.26" stroke="#a8183a" stroke-width="1.12"/>
<line x1="61.14" y1="392.70" x2="63.74" y2="392.70" stroke="#a8183a" stroke-width="1.12"/>
<line x1="61.14" y1="464.26" x2="63.74" y2="464.26" stroke="#a8183a" stroke-width="1.12"/>
<line x1="83.31" y1="414.73" x2="83.31" y2="500.54" stroke="#a8183a" stroke-width="1.12"/>
<line x1="82.01" y1="414.73" x2="84.61" y2="414.73" stroke="#a8183a" stroke-width="1.12"/>
<line x1="82.01" y1="500.54" x2="84.61" y2="500.54" stroke="#a8183a" stroke-width="1.12"/>
<line x1="104.19" y1="434.44" x2="104.19" y2="507.24" stroke="#a8183a" stroke-width="1.12"/>
<line x1="102.89" y1="434.44" x2="105.49" y2="434.44" stroke="#a8183a" stroke-width="1.12"/>
<line x1="102.89" y1="507.24" x2="105.49" y2="507.24" stroke="#a8183a" stroke-width="1.12"/>
<line x1="125.06" y1="420.70" x2="125.06" y2="494.73" stroke="#a8183a" stroke-width="1.12"/>
<line x1="123.76" y1="420.70" x2="126.36" y2="420.70" stroke="#a8183a" stroke-width="1.12"/>
<line x1="123.76" y1="494.73" x2="126.36" y2="494.73" stroke="#a8183a" stroke-width="1.12"/>
<line x1="145.94" y1="361.03" x2="145.94" y2="418.80" stroke="#a8183a" stroke-width="1.12"/>
<line x1="144.64" y1="361.03" x2="147.24" y2="361.03" stroke="#a8183a" stroke-width="1.12"/>
<line x1="144.64" y1="418.80" x2="147.24" y2="418.80" stroke="#a8183a" stroke-width="1.12"/>
<line x1="166.81" y1="418.04" x2="166.81" y2="488.98" stroke="#a8183a" stroke-width="1.12"/>
<line x1="165.51" y1="418.04" x2="168.11" y2="418.04" stroke="#a8183a" stroke-width="1.12"/>
<line x1="165.51" y1="488.98" x2="168.11" y2="488.98" stroke="#a8183a" stroke-width="1.12"/>
<line x1="187.69" y1="436.92" x2="187.69" y2="519.01" stroke="#a8183a" stroke-width="1.12"/>
<line x1="186.39" y1="436.92" x2="188.99" y2="436.92" stroke="#a8183a" stroke-width="1.12"/>
<line x1="186.39" y1="519.01" x2="188.99" y2="519.01" stroke="#a8183a" stroke-width="1.12"/>
<line x1="208.56" y1="406.18" x2="208.56" y2="476.10" stroke="#a8183a" stroke-width="1.12"/>
<line x1="207.26" y1="406.18" x2="209.86" y2="406.18" stroke="#a8183a" stroke-width="1.12"/>
<line x1="207.26" y1="476.10" x2="209.86" y2="476.10" stroke="#a8183a" stroke-width="1.12"/>
<line x1="229.44" y1="445.47" x2="229.44" y2="517.44" stroke="#a8183a" stroke-width="1.12"/>
<line x1="228.14" y1="445.47" x2="230.74" y2="445.47" stroke="#a8183a" stroke-width="1.12"/>
<line x1="228.14" y1="517.44" x2="230.74" y2="517.44" stroke="#a8183a" stroke-width="1.12"/>
<line x1="250.31" y1="421.18" x2="250.31" y2="478.17" stroke="#a8183a" stroke-width="1.12"/>
<line x1="249.01" y1="421.18" x2="251.61" y2="421.18" stroke="#a8183a" stroke-width="1.12"/>
<line x1="249.01" y1="478.17" x2="251.61" y2="478.17" stroke="#a8183a" stroke-width="1.12"/>
<line x1="271.19" y1="430.57" x2="271.19" y2="490.48" stroke="#a8183a" stroke-width="1.12"/>
<line x1="269.89" y1="430.57" x2="272.49" y2="430.57" stroke="#a8183a" stroke-width="1.12"/>
<line x1="269.89" y1="490.48" x2="272.49" y2="490.48" stroke="#a8183a" stroke-width="1.12"/>
<line x1="292.06" y1="450.13" x2="292.06" y2="510.04" stroke="#a8183a" stroke-width="1.12"/>
<line x1="290.76" y1="450.13" x2="293.36" y2="450.13" stroke="#a8183a" stroke-width="1.12"/>
<line x1="290.76" y1="510.04" x2="293.36" y2="510.04" stroke="#a8183a" stroke-width="1.12"/>
<path d="M62.44 418.90 L65.49 423.80 L59.39 423.80 Z" fill="none" stroke="#a8183a" stroke-width="1.1" stroke-linejoin="miter"/>
<path d="M83.31 445.05 L86.36 449.95 L80.26 449.95 Z" fill="none" stroke="#a8183a" stroke-width="1.1" stroke-linejoin="miter"/>
<path d="M104.19 461.02 L107.24 465.92 L101.14 465.92 Z" fill="none" stroke="#a8183a" stroke-width="1.1" stroke-linejoin="miter"/>
<path d="M125.06 447.65 L128.11 452.55 L122.01 452.55 Z" fill="none" stroke="#a8183a" stroke-width="1.1" stroke-linejoin="miter"/>
<path d="M145.94 382.77 L148.99 387.67 L142.89 387.67 Z" fill="none" stroke="#a8183a" stroke-width="1.1" stroke-linejoin="miter"/>
<path d="M166.81 444.05 L169.86 448.95 L163.76 448.95 Z" fill="none" stroke="#a8183a" stroke-width="1.1" stroke-linejoin="miter"/>
<path d="M187.69 466.21 L190.74 471.11 L184.64 471.11 Z" fill="none" stroke="#a8183a" stroke-width="1.1" stroke-linejoin="miter"/>
<path d="M208.56 431.88 L211.61 436.78 L205.51 436.78 Z" fill="none" stroke="#a8183a" stroke-width="1.1" stroke-linejoin="miter"/>
<path d="M229.44 471.80 L232.49 476.70 L226.39 476.70 Z" fill="none" stroke="#a8183a" stroke-width="1.1" stroke-linejoin="miter"/>
<path d="M250.31 442.66 L253.36 447.56 L247.26 447.56 Z" fill="none" stroke="#a8183a" stroke-width="1.1" stroke-linejoin="miter"/>
<path d="M271.19 453.04 L274.24 457.94 L268.14 457.94 Z" fill="none" stroke="#a8183a" stroke-width="1.1" stroke-linejoin="miter"/>
<path d="M292.06 472.60 L295.11 477.50 L289.01 477.50 Z" fill="none" stroke="#a8183a" stroke-width="1.1" stroke-linejoin="miter"/>
<path d="M312.94 483.77 L315.99 488.67 L309.89 488.67 Z" fill="none" stroke="#a8183a" stroke-width="1.1" stroke-linejoin="miter"/>
<path d="M333.81 504.53 L336.86 509.43 L330.76 509.43 Z" fill="none" stroke="#a8183a" stroke-width="1.1" stroke-linejoin="miter"/>
<path d="M354.69 488.17 L357.74 493.07 L351.64 493.07 Z" fill="none" stroke="#a8183a" stroke-width="1.1" stroke-linejoin="miter"/>
<path d="M62.44 355.48 L83.31 427.34 L104.19 472.25 L125.06 506.38 L145.94 427.54 L166.81 440.52 L187.69 433.73 L208.56 418.96 L229.44 501.19 L250.31 501.79 L271.19 449.30 L292.06 478.84 L312.94 527.74 L333.81 501.59 L354.69 387.62" fill="none" stroke="#ff8030" stroke-width="1.12" stroke-dasharray="3.8 1.6 0.9 1.6" stroke-linejoin="round"/>
<line x1="62.44" y1="334.94" x2="62.44" y2="382.39" stroke="#ff8030" stroke-width="1.12" stroke-dasharray="3.8 1.6 0.9 1.6"/>
<line x1="61.14" y1="334.94" x2="63.74" y2="334.94" stroke="#ff8030" stroke-width="1.12"/>
<line x1="61.14" y1="382.39" x2="63.74" y2="382.39" stroke="#ff8030" stroke-width="1.12"/>
<line x1="83.31" y1="399.51" x2="83.31" y2="468.41" stroke="#ff8030" stroke-width="1.12" stroke-dasharray="3.8 1.6 0.9 1.6"/>
<line x1="82.01" y1="399.51" x2="84.61" y2="399.51" stroke="#ff8030" stroke-width="1.12"/>
<line x1="82.01" y1="468.41" x2="84.61" y2="468.41" stroke="#ff8030" stroke-width="1.12"/>
<line x1="104.19" y1="439.36" x2="104.19" y2="525.61" stroke="#ff8030" stroke-width="1.12" stroke-dasharray="3.8 1.6 0.9 1.6"/>
<line x1="102.89" y1="439.36" x2="105.49" y2="439.36" stroke="#ff8030" stroke-width="1.12"/>
<line x1="102.89" y1="525.61" x2="105.49" y2="525.61" stroke="#ff8030" stroke-width="1.12"/>
<line x1="145.94" y1="398.14" x2="145.94" y2="472.18" stroke="#ff8030" stroke-width="1.12" stroke-dasharray="3.8 1.6 0.9 1.6"/>
<line x1="144.64" y1="398.14" x2="147.24" y2="398.14" stroke="#ff8030" stroke-width="1.12"/>
<line x1="144.64" y1="472.18" x2="147.24" y2="472.18" stroke="#ff8030" stroke-width="1.12"/>
<line x1="166.81" y1="411.11" x2="166.81" y2="485.15" stroke="#ff8030" stroke-width="1.12" stroke-dasharray="3.8 1.6 0.9 1.6"/>
<line x1="165.51" y1="411.11" x2="168.11" y2="411.11" stroke="#ff8030" stroke-width="1.12"/>
<line x1="165.51" y1="485.15" x2="168.11" y2="485.15" stroke="#ff8030" stroke-width="1.12"/>
<line x1="187.69" y1="396.91" x2="187.69" y2="498.59" stroke="#ff8030" stroke-width="1.12" stroke-dasharray="3.8 1.6 0.9 1.6"/>
<line x1="186.39" y1="396.91" x2="188.99" y2="396.91" stroke="#ff8030" stroke-width="1.12"/>
<line x1="186.39" y1="498.59" x2="188.99" y2="498.59" stroke="#ff8030" stroke-width="1.12"/>
<line x1="208.56" y1="394.04" x2="208.56" y2="453.95" stroke="#ff8030" stroke-width="1.12" stroke-dasharray="3.8 1.6 0.9 1.6"/>
<line x1="207.26" y1="394.04" x2="209.86" y2="394.04" stroke="#ff8030" stroke-width="1.12"/>
<line x1="207.26" y1="453.95" x2="209.86" y2="453.95" stroke="#ff8030" stroke-width="1.12"/>
<line x1="271.19" y1="425.37" x2="271.19" y2="482.36" stroke="#ff8030" stroke-width="1.12" stroke-dasharray="3.8 1.6 0.9 1.6"/>
<line x1="269.89" y1="425.37" x2="272.49" y2="425.37" stroke="#ff8030" stroke-width="1.12"/>
<line x1="269.89" y1="482.36" x2="272.49" y2="482.36" stroke="#ff8030" stroke-width="1.12"/>
<line x1="354.69" y1="376.48" x2="354.69" y2="400.39" stroke="#ff8030" stroke-width="1.12" stroke-dasharray="3.8 1.6 0.9 1.6"/>
<line x1="353.39" y1="376.48" x2="355.99" y2="376.48" stroke="#ff8030" stroke-width="1.12"/>
<line x1="353.39" y1="400.39" x2="355.99" y2="400.39" stroke="#ff8030" stroke-width="1.12"/>
<rect x="60.14" y="353.18" width="4.6" height="4.6" fill="#ff8030"/>
<rect x="81.01" y="425.04" width="4.6" height="4.6" fill="#ff8030"/>
<rect x="101.89" y="469.95" width="4.6" height="4.6" fill="#ff8030"/>
<rect x="122.76" y="504.08" width="4.6" height="4.6" fill="#ff8030"/>
<rect x="143.64" y="425.24" width="4.6" height="4.6" fill="#ff8030"/>
<rect x="164.51" y="438.22" width="4.6" height="4.6" fill="#ff8030"/>
<rect x="185.39" y="431.43" width="4.6" height="4.6" fill="#ff8030"/>
<rect x="206.26" y="416.66" width="4.6" height="4.6" fill="#ff8030"/>
<rect x="227.14" y="498.89" width="4.6" height="4.6" fill="#ff8030"/>
<rect x="248.01" y="499.49" width="4.6" height="4.6" fill="#ff8030"/>
<rect x="268.89" y="447.00" width="4.6" height="4.6" fill="#ff8030"/>
<rect x="289.76" y="476.54" width="4.6" height="4.6" fill="#ff8030"/>
<rect x="310.64" y="525.44" width="4.6" height="4.6" fill="#ff8030"/>
<rect x="331.51" y="499.29" width="4.6" height="4.6" fill="#ff8030"/>
<rect x="352.39" y="385.32" width="4.6" height="4.6" fill="#ff8030"/>
<path d="M62.44 462.87 L83.31 506.78 L104.19 451.69 L125.06 426.14 L145.94 463.27 L166.81 426.14 L187.69 421.15 L208.56 489.62 L229.44 446.50 L250.31 473.25 L271.19 475.25 L292.06 504.59 L312.94 535.93 L333.81 542.71 L354.69 532.73" fill="none" stroke="#0000f0" stroke-width="1.12" stroke-linejoin="round"/>
<line x1="62.44" y1="434.10" x2="62.44" y2="506.06" stroke="#0000f0" stroke-width="1.12"/>
<line x1="61.14" y1="434.10" x2="63.74" y2="434.10" stroke="#0000f0" stroke-width="1.12"/>
<line x1="61.14" y1="506.06" x2="63.74" y2="506.06" stroke="#0000f0" stroke-width="1.12"/>
<line x1="104.19" y1="428.57" x2="104.19" y2="483.23" stroke="#0000f0" stroke-width="1.12"/>
<line x1="102.89" y1="428.57" x2="105.49" y2="428.57" stroke="#0000f0" stroke-width="1.12"/>
<line x1="102.89" y1="483.23" x2="105.49" y2="483.23" stroke="#0000f0" stroke-width="1.12"/>
<line x1="125.06" y1="403.55" x2="125.06" y2="456.69" stroke="#0000f0" stroke-width="1.12"/>
<line x1="123.76" y1="403.55" x2="126.36" y2="403.55" stroke="#0000f0" stroke-width="1.12"/>
<line x1="123.76" y1="456.69" x2="126.36" y2="456.69" stroke="#0000f0" stroke-width="1.12"/>
<line x1="145.94" y1="436.40" x2="145.94" y2="502.27" stroke="#0000f0" stroke-width="1.12"/>
<line x1="144.64" y1="436.40" x2="147.24" y2="436.40" stroke="#0000f0" stroke-width="1.12"/>
<line x1="144.64" y1="502.27" x2="147.24" y2="502.27" stroke="#0000f0" stroke-width="1.12"/>
<line x1="166.81" y1="403.89" x2="166.81" y2="456.07" stroke="#0000f0" stroke-width="1.12"/>
<line x1="165.51" y1="403.89" x2="168.11" y2="403.89" stroke="#0000f0" stroke-width="1.12"/>
<line x1="165.51" y1="456.07" x2="168.11" y2="456.07" stroke="#0000f0" stroke-width="1.12"/>
<line x1="187.69" y1="399.24" x2="187.69" y2="450.47" stroke="#0000f0" stroke-width="1.12"/>
<line x1="186.39" y1="399.24" x2="188.99" y2="399.24" stroke="#0000f0" stroke-width="1.12"/>
<line x1="186.39" y1="450.47" x2="188.99" y2="450.47" stroke="#0000f0" stroke-width="1.12"/>
<line x1="229.44" y1="425.34" x2="229.44" y2="474.48" stroke="#0000f0" stroke-width="1.12"/>
<line x1="228.14" y1="425.34" x2="230.74" y2="425.34" stroke="#0000f0" stroke-width="1.12"/>
<line x1="228.14" y1="474.48" x2="230.74" y2="474.48" stroke="#0000f0" stroke-width="1.12"/>
<line x1="250.31" y1="450.32" x2="250.31" y2="504.42" stroke="#0000f0" stroke-width="1.12"/>
<line x1="249.01" y1="450.32" x2="251.61" y2="450.32" stroke="#0000f0" stroke-width="1.12"/>
<line x1="249.01" y1="504.42" x2="251.61" y2="504.42" stroke="#0000f0" stroke-width="1.12"/>
<line x1="271.19" y1="453.68" x2="271.19" y2="503.95" stroke="#0000f0" stroke-width="1.12"/>
<line x1="269.89" y1="453.68" x2="272.49" y2="453.68" stroke="#0000f0" stroke-width="1.12"/>
<line x1="269.89" y1="503.95" x2="272.49" y2="503.95" stroke="#0000f0" stroke-width="1.12"/>
<path d="M62.44 460.52 L65.14 465.22 L59.74 465.22 Z" fill="#0000f0" stroke="#0000f0" stroke-width="0.6"/>
<path d="M83.31 504.43 L86.01 509.13 L80.61 509.13 Z" fill="#0000f0" stroke="#0000f0" stroke-width="0.6"/>
<path d="M104.19 449.34 L106.89 454.04 L101.49 454.04 Z" fill="#0000f0" stroke="#0000f0" stroke-width="0.6"/>
<path d="M125.06 423.79 L127.76 428.49 L122.36 428.49 Z" fill="#0000f0" stroke="#0000f0" stroke-width="0.6"/>
<path d="M145.94 460.92 L148.64 465.62 L143.24 465.62 Z" fill="#0000f0" stroke="#0000f0" stroke-width="0.6"/>
<path d="M166.81 423.79 L169.51 428.49 L164.11 428.49 Z" fill="#0000f0" stroke="#0000f0" stroke-width="0.6"/>
<path d="M187.69 418.80 L190.39 423.50 L184.99 423.50 Z" fill="#0000f0" stroke="#0000f0" stroke-width="0.6"/>
<path d="M208.56 487.27 L211.26 491.97 L205.86 491.97 Z" fill="#0000f0" stroke="#0000f0" stroke-width="0.6"/>
<path d="M229.44 444.15 L232.14 448.85 L226.74 448.85 Z" fill="#0000f0" stroke="#0000f0" stroke-width="0.6"/>
<path d="M250.31 470.90 L253.01 475.60 L247.61 475.60 Z" fill="#0000f0" stroke="#0000f0" stroke-width="0.6"/>
<path d="M271.19 472.90 L273.89 477.60 L268.49 477.60 Z" fill="#0000f0" stroke="#0000f0" stroke-width="0.6"/>
<path d="M292.06 502.24 L294.76 506.94 L289.36 506.94 Z" fill="#0000f0" stroke="#0000f0" stroke-width="0.6"/>
<path d="M312.94 533.58 L315.64 538.28 L310.24 538.28 Z" fill="#0000f0" stroke="#0000f0" stroke-width="0.6"/>
<path d="M333.81 540.36 L336.51 545.06 L331.11 545.06 Z" fill="#0000f0" stroke="#0000f0" stroke-width="0.6"/>
<path d="M354.69 530.38 L357.39 535.08 L351.99 535.08 Z" fill="#0000f0" stroke="#0000f0" stroke-width="0.6"/>
</g>
<line x1="52.00" y1="17.50" x2="52.00" y2="25.70" stroke="#000" stroke-width="1.1"/>
<line x1="52.00" y1="317.50" x2="52.00" y2="309.00" stroke="#000" stroke-width="1.1"/>
<line x1="52.00" y1="317.50" x2="52.00" y2="322.10" stroke="#000" stroke-width="1.1"/>
<line x1="52.00" y1="477.80" x2="52.00" y2="473.00" stroke="#000" stroke-width="1.1"/>
<line x1="61.97" y1="17.50" x2="61.97" y2="19.60" stroke="#000" stroke-width="1.1"/>
<line x1="61.97" y1="317.50" x2="61.97" y2="315.20" stroke="#000" stroke-width="1.1"/>
<line x1="61.97" y1="317.50" x2="61.97" y2="319.00" stroke="#000" stroke-width="1.1"/>
<line x1="61.97" y1="477.80" x2="61.97" y2="476.50" stroke="#000" stroke-width="1.1"/>
<line x1="71.93" y1="17.50" x2="71.93" y2="21.50" stroke="#000" stroke-width="1.1"/>
<line x1="71.93" y1="317.50" x2="71.93" y2="313.00" stroke="#000" stroke-width="1.1"/>
<line x1="71.93" y1="317.50" x2="71.93" y2="319.80" stroke="#000" stroke-width="1.1"/>
<line x1="71.93" y1="477.80" x2="71.93" y2="475.40" stroke="#000" stroke-width="1.1"/>
<line x1="81.90" y1="17.50" x2="81.90" y2="19.60" stroke="#000" stroke-width="1.1"/>
<line x1="81.90" y1="317.50" x2="81.90" y2="315.20" stroke="#000" stroke-width="1.1"/>
<line x1="81.90" y1="317.50" x2="81.90" y2="319.00" stroke="#000" stroke-width="1.1"/>
<line x1="81.90" y1="477.80" x2="81.90" y2="476.50" stroke="#000" stroke-width="1.1"/>
<line x1="91.87" y1="17.50" x2="91.87" y2="21.50" stroke="#000" stroke-width="1.1"/>
<line x1="91.87" y1="317.50" x2="91.87" y2="313.00" stroke="#000" stroke-width="1.1"/>
<line x1="91.87" y1="317.50" x2="91.87" y2="319.80" stroke="#000" stroke-width="1.1"/>
<line x1="91.87" y1="477.80" x2="91.87" y2="475.40" stroke="#000" stroke-width="1.1"/>
<line x1="101.84" y1="17.50" x2="101.84" y2="19.60" stroke="#000" stroke-width="1.1"/>
<line x1="101.84" y1="317.50" x2="101.84" y2="315.20" stroke="#000" stroke-width="1.1"/>
<line x1="101.84" y1="317.50" x2="101.84" y2="319.00" stroke="#000" stroke-width="1.1"/>
<line x1="101.84" y1="477.80" x2="101.84" y2="476.50" stroke="#000" stroke-width="1.1"/>
<line x1="111.80" y1="17.50" x2="111.80" y2="21.50" stroke="#000" stroke-width="1.1"/>
<line x1="111.80" y1="317.50" x2="111.80" y2="313.00" stroke="#000" stroke-width="1.1"/>
<line x1="111.80" y1="317.50" x2="111.80" y2="319.80" stroke="#000" stroke-width="1.1"/>
<line x1="111.80" y1="477.80" x2="111.80" y2="475.40" stroke="#000" stroke-width="1.1"/>
<line x1="121.77" y1="17.50" x2="121.77" y2="19.60" stroke="#000" stroke-width="1.1"/>
<line x1="121.77" y1="317.50" x2="121.77" y2="315.20" stroke="#000" stroke-width="1.1"/>
<line x1="121.77" y1="317.50" x2="121.77" y2="319.00" stroke="#000" stroke-width="1.1"/>
<line x1="121.77" y1="477.80" x2="121.77" y2="476.50" stroke="#000" stroke-width="1.1"/>
<line x1="131.74" y1="17.50" x2="131.74" y2="21.50" stroke="#000" stroke-width="1.1"/>
<line x1="131.74" y1="317.50" x2="131.74" y2="313.00" stroke="#000" stroke-width="1.1"/>
<line x1="131.74" y1="317.50" x2="131.74" y2="319.80" stroke="#000" stroke-width="1.1"/>
<line x1="131.74" y1="477.80" x2="131.74" y2="475.40" stroke="#000" stroke-width="1.1"/>
<line x1="141.70" y1="17.50" x2="141.70" y2="19.60" stroke="#000" stroke-width="1.1"/>
<line x1="141.70" y1="317.50" x2="141.70" y2="315.20" stroke="#000" stroke-width="1.1"/>
<line x1="141.70" y1="317.50" x2="141.70" y2="319.00" stroke="#000" stroke-width="1.1"/>
<line x1="141.70" y1="477.80" x2="141.70" y2="476.50" stroke="#000" stroke-width="1.1"/>
<line x1="151.67" y1="17.50" x2="151.67" y2="25.70" stroke="#000" stroke-width="1.1"/>
<line x1="151.67" y1="317.50" x2="151.67" y2="309.00" stroke="#000" stroke-width="1.1"/>
<line x1="151.67" y1="317.50" x2="151.67" y2="322.10" stroke="#000" stroke-width="1.1"/>
<line x1="151.67" y1="477.80" x2="151.67" y2="473.00" stroke="#000" stroke-width="1.1"/>
<line x1="161.64" y1="17.50" x2="161.64" y2="19.60" stroke="#000" stroke-width="1.1"/>
<line x1="161.64" y1="317.50" x2="161.64" y2="315.20" stroke="#000" stroke-width="1.1"/>
<line x1="161.64" y1="317.50" x2="161.64" y2="319.00" stroke="#000" stroke-width="1.1"/>
<line x1="161.64" y1="477.80" x2="161.64" y2="476.50" stroke="#000" stroke-width="1.1"/>
<line x1="171.60" y1="17.50" x2="171.60" y2="21.50" stroke="#000" stroke-width="1.1"/>
<line x1="171.60" y1="317.50" x2="171.60" y2="313.00" stroke="#000" stroke-width="1.1"/>
<line x1="171.60" y1="317.50" x2="171.60" y2="319.80" stroke="#000" stroke-width="1.1"/>
<line x1="171.60" y1="477.80" x2="171.60" y2="475.40" stroke="#000" stroke-width="1.1"/>
<line x1="181.57" y1="17.50" x2="181.57" y2="19.60" stroke="#000" stroke-width="1.1"/>
<line x1="181.57" y1="317.50" x2="181.57" y2="315.20" stroke="#000" stroke-width="1.1"/>
<line x1="181.57" y1="317.50" x2="181.57" y2="319.00" stroke="#000" stroke-width="1.1"/>
<line x1="181.57" y1="477.80" x2="181.57" y2="476.50" stroke="#000" stroke-width="1.1"/>
<line x1="191.54" y1="17.50" x2="191.54" y2="21.50" stroke="#000" stroke-width="1.1"/>
<line x1="191.54" y1="317.50" x2="191.54" y2="313.00" stroke="#000" stroke-width="1.1"/>
<line x1="191.54" y1="317.50" x2="191.54" y2="319.80" stroke="#000" stroke-width="1.1"/>
<line x1="191.54" y1="477.80" x2="191.54" y2="475.40" stroke="#000" stroke-width="1.1"/>
<line x1="201.50" y1="17.50" x2="201.50" y2="19.60" stroke="#000" stroke-width="1.1"/>
<line x1="201.50" y1="317.50" x2="201.50" y2="315.20" stroke="#000" stroke-width="1.1"/>
<line x1="201.50" y1="317.50" x2="201.50" y2="319.00" stroke="#000" stroke-width="1.1"/>
<line x1="201.50" y1="477.80" x2="201.50" y2="476.50" stroke="#000" stroke-width="1.1"/>
<line x1="211.47" y1="17.50" x2="211.47" y2="21.50" stroke="#000" stroke-width="1.1"/>
<line x1="211.47" y1="317.50" x2="211.47" y2="313.00" stroke="#000" stroke-width="1.1"/>
<line x1="211.47" y1="317.50" x2="211.47" y2="319.80" stroke="#000" stroke-width="1.1"/>
<line x1="211.47" y1="477.80" x2="211.47" y2="475.40" stroke="#000" stroke-width="1.1"/>
<line x1="221.44" y1="17.50" x2="221.44" y2="19.60" stroke="#000" stroke-width="1.1"/>
<line x1="221.44" y1="317.50" x2="221.44" y2="315.20" stroke="#000" stroke-width="1.1"/>
<line x1="221.44" y1="317.50" x2="221.44" y2="319.00" stroke="#000" stroke-width="1.1"/>
<line x1="221.44" y1="477.80" x2="221.44" y2="476.50" stroke="#000" stroke-width="1.1"/>
<line x1="231.41" y1="17.50" x2="231.41" y2="21.50" stroke="#000" stroke-width="1.1"/>
<line x1="231.41" y1="317.50" x2="231.41" y2="313.00" stroke="#000" stroke-width="1.1"/>
<line x1="231.41" y1="317.50" x2="231.41" y2="319.80" stroke="#000" stroke-width="1.1"/>
<line x1="231.41" y1="477.80" x2="231.41" y2="475.40" stroke="#000" stroke-width="1.1"/>
<line x1="241.37" y1="17.50" x2="241.37" y2="19.60" stroke="#000" stroke-width="1.1"/>
<line x1="241.37" y1="317.50" x2="241.37" y2="315.20" stroke="#000" stroke-width="1.1"/>
<line x1="241.37" y1="317.50" x2="241.37" y2="319.00" stroke="#000" stroke-width="1.1"/>
<line x1="241.37" y1="477.80" x2="241.37" y2="476.50" stroke="#000" stroke-width="1.1"/>
<line x1="251.34" y1="17.50" x2="251.34" y2="25.70" stroke="#000" stroke-width="1.1"/>
<line x1="251.34" y1="317.50" x2="251.34" y2="309.00" stroke="#000" stroke-width="1.1"/>
<line x1="251.34" y1="317.50" x2="251.34" y2="322.10" stroke="#000" stroke-width="1.1"/>
<line x1="251.34" y1="477.80" x2="251.34" y2="473.00" stroke="#000" stroke-width="1.1"/>
<line x1="261.31" y1="17.50" x2="261.31" y2="19.60" stroke="#000" stroke-width="1.1"/>
<line x1="261.31" y1="317.50" x2="261.31" y2="315.20" stroke="#000" stroke-width="1.1"/>
<line x1="261.31" y1="317.50" x2="261.31" y2="319.00" stroke="#000" stroke-width="1.1"/>
<line x1="261.31" y1="477.80" x2="261.31" y2="476.50" stroke="#000" stroke-width="1.1"/>
<line x1="271.27" y1="17.50" x2="271.27" y2="21.50" stroke="#000" stroke-width="1.1"/>
<line x1="271.27" y1="317.50" x2="271.27" y2="313.00" stroke="#000" stroke-width="1.1"/>
<line x1="271.27" y1="317.50" x2="271.27" y2="319.80" stroke="#000" stroke-width="1.1"/>
<line x1="271.27" y1="477.80" x2="271.27" y2="475.40" stroke="#000" stroke-width="1.1"/>
<line x1="281.24" y1="17.50" x2="281.24" y2="19.60" stroke="#000" stroke-width="1.1"/>
<line x1="281.24" y1="317.50" x2="281.24" y2="315.20" stroke="#000" stroke-width="1.1"/>
<line x1="281.24" y1="317.50" x2="281.24" y2="319.00" stroke="#000" stroke-width="1.1"/>
<line x1="281.24" y1="477.80" x2="281.24" y2="476.50" stroke="#000" stroke-width="1.1"/>
<line x1="291.21" y1="17.50" x2="291.21" y2="21.50" stroke="#000" stroke-width="1.1"/>
<line x1="291.21" y1="317.50" x2="291.21" y2="313.00" stroke="#000" stroke-width="1.1"/>
<line x1="291.21" y1="317.50" x2="291.21" y2="319.80" stroke="#000" stroke-width="1.1"/>
<line x1="291.21" y1="477.80" x2="291.21" y2="475.40" stroke="#000" stroke-width="1.1"/>
<line x1="301.18" y1="17.50" x2="301.18" y2="19.60" stroke="#000" stroke-width="1.1"/>
<line x1="301.18" y1="317.50" x2="301.18" y2="315.20" stroke="#000" stroke-width="1.1"/>
<line x1="301.18" y1="317.50" x2="301.18" y2="319.00" stroke="#000" stroke-width="1.1"/>
<line x1="301.18" y1="477.80" x2="301.18" y2="476.50" stroke="#000" stroke-width="1.1"/>
<line x1="311.14" y1="17.50" x2="311.14" y2="21.50" stroke="#000" stroke-width="1.1"/>
<line x1="311.14" y1="317.50" x2="311.14" y2="313.00" stroke="#000" stroke-width="1.1"/>
<line x1="311.14" y1="317.50" x2="311.14" y2="319.80" stroke="#000" stroke-width="1.1"/>
<line x1="311.14" y1="477.80" x2="311.14" y2="475.40" stroke="#000" stroke-width="1.1"/>
<line x1="321.11" y1="17.50" x2="321.11" y2="19.60" stroke="#000" stroke-width="1.1"/>
<line x1="321.11" y1="317.50" x2="321.11" y2="315.20" stroke="#000" stroke-width="1.1"/>
<line x1="321.11" y1="317.50" x2="321.11" y2="319.00" stroke="#000" stroke-width="1.1"/>
<line x1="321.11" y1="477.80" x2="321.11" y2="476.50" stroke="#000" stroke-width="1.1"/>
<line x1="331.08" y1="17.50" x2="331.08" y2="21.50" stroke="#000" stroke-width="1.1"/>
<line x1="331.08" y1="317.50" x2="331.08" y2="313.00" stroke="#000" stroke-width="1.1"/>
<line x1="331.08" y1="317.50" x2="331.08" y2="319.80" stroke="#000" stroke-width="1.1"/>
<line x1="331.08" y1="477.80" x2="331.08" y2="475.40" stroke="#000" stroke-width="1.1"/>
<line x1="341.04" y1="17.50" x2="341.04" y2="19.60" stroke="#000" stroke-width="1.1"/>
<line x1="341.04" y1="317.50" x2="341.04" y2="315.20" stroke="#000" stroke-width="1.1"/>
<line x1="341.04" y1="317.50" x2="341.04" y2="319.00" stroke="#000" stroke-width="1.1"/>
<line x1="341.04" y1="477.80" x2="341.04" y2="476.50" stroke="#000" stroke-width="1.1"/>
<line x1="351.01" y1="17.50" x2="351.01" y2="25.70" stroke="#000" stroke-width="1.1"/>
<line x1="351.01" y1="317.50" x2="351.01" y2="309.00" stroke="#000" stroke-width="1.1"/>
<line x1="351.01" y1="317.50" x2="351.01" y2="322.10" stroke="#000" stroke-width="1.1"/>
<line x1="351.01" y1="477.80" x2="351.01" y2="473.00" stroke="#000" stroke-width="1.1"/>
<line x1="360.98" y1="17.50" x2="360.98" y2="19.60" stroke="#000" stroke-width="1.1"/>
<line x1="360.98" y1="317.50" x2="360.98" y2="315.20" stroke="#000" stroke-width="1.1"/>
<line x1="360.98" y1="317.50" x2="360.98" y2="319.00" stroke="#000" stroke-width="1.1"/>
<line x1="360.98" y1="477.80" x2="360.98" y2="476.50" stroke="#000" stroke-width="1.1"/>
<line x1="370.94" y1="17.50" x2="370.94" y2="21.50" stroke="#000" stroke-width="1.1"/>
<line x1="370.94" y1="317.50" x2="370.94" y2="313.00" stroke="#000" stroke-width="1.1"/>
<line x1="370.94" y1="317.50" x2="370.94" y2="319.80" stroke="#000" stroke-width="1.1"/>
<line x1="370.94" y1="477.80" x2="370.94" y2="475.40" stroke="#000" stroke-width="1.1"/>
<line x1="45.50" y1="311.21" x2="51.00" y2="311.21" stroke="#000" stroke-width="1.1"/>
<line x1="371.00" y1="311.21" x2="365.50" y2="311.21" stroke="#000" stroke-width="1.1"/>
<line x1="45.50" y1="301.44" x2="51.00" y2="301.44" stroke="#000" stroke-width="1.1"/>
<line x1="371.00" y1="301.44" x2="365.50" y2="301.44" stroke="#000" stroke-width="1.1"/>
<line x1="45.50" y1="293.46" x2="51.00" y2="293.46" stroke="#000" stroke-width="1.1"/>
<line x1="371.00" y1="293.46" x2="365.50" y2="293.46" stroke="#000" stroke-width="1.1"/>
<line x1="45.50" y1="286.71" x2="51.00" y2="286.71" stroke="#000" stroke-width="1.1"/>
<line x1="371.00" y1="286.71" x2="365.50" y2="286.71" stroke="#000" stroke-width="1.1"/>
<line x1="45.50" y1="280.87" x2="51.00" y2="280.87" stroke="#000" stroke-width="1.1"/>
<line x1="371.00" y1="280.87" x2="365.50" y2="280.87" stroke="#000" stroke-width="1.1"/>
<line x1="45.50" y1="275.71" x2="51.00" y2="275.71" stroke="#000" stroke-width="1.1"/>
<line x1="371.00" y1="275.71" x2="365.50" y2="275.71" stroke="#000" stroke-width="1.1"/>
<line x1="45.50" y1="271.10" x2="56.50" y2="271.10" stroke="#000" stroke-width="1.1"/>
<line x1="371.00" y1="271.10" x2="360.00" y2="271.10" stroke="#000" stroke-width="1.1"/>
<line x1="45.50" y1="240.76" x2="51.00" y2="240.76" stroke="#000" stroke-width="1.1"/>
<line x1="371.00" y1="240.76" x2="365.50" y2="240.76" stroke="#000" stroke-width="1.1"/>
<line x1="45.50" y1="223.01" x2="51.00" y2="223.01" stroke="#000" stroke-width="1.1"/>
<line x1="371.00" y1="223.01" x2="365.50" y2="223.01" stroke="#000" stroke-width="1.1"/>
<line x1="45.50" y1="210.41" x2="51.00" y2="210.41" stroke="#000" stroke-width="1.1"/>
<line x1="371.00" y1="210.41" x2="365.50" y2="210.41" stroke="#000" stroke-width="1.1"/>
<line x1="45.50" y1="200.64" x2="51.00" y2="200.64" stroke="#000" stroke-width="1.1"/>
<line x1="371.00" y1="200.64" x2="365.50" y2="200.64" stroke="#000" stroke-width="1.1"/>
<line x1="45.50" y1="192.66" x2="51.00" y2="192.66" stroke="#000" stroke-width="1.1"/>
<line x1="371.00" y1="192.66" x2="365.50" y2="192.66" stroke="#000" stroke-width="1.1"/>
<line x1="45.50" y1="185.91" x2="51.00" y2="185.91" stroke="#000" stroke-width="1.1"/>
<line x1="371.00" y1="185.91" x2="365.50" y2="185.91" stroke="#000" stroke-width="1.1"/>
<line x1="45.50" y1="180.07" x2="51.00" y2="180.07" stroke="#000" stroke-width="1.1"/>
<line x1="371.00" y1="180.07" x2="365.50" y2="180.07" stroke="#000" stroke-width="1.1"/>
<line x1="45.50" y1="174.91" x2="51.00" y2="174.91" stroke="#000" stroke-width="1.1"/>
<line x1="371.00" y1="174.91" x2="365.50" y2="174.91" stroke="#000" stroke-width="1.1"/>
<line x1="45.50" y1="170.30" x2="56.50" y2="170.30" stroke="#000" stroke-width="1.1"/>
<line x1="371.00" y1="170.30" x2="360.00" y2="170.30" stroke="#000" stroke-width="1.1"/>
<line x1="45.50" y1="139.96" x2="51.00" y2="139.96" stroke="#000" stroke-width="1.1"/>
<line x1="371.00" y1="139.96" x2="365.50" y2="139.96" stroke="#000" stroke-width="1.1"/>
<line x1="45.50" y1="122.21" x2="51.00" y2="122.21" stroke="#000" stroke-width="1.1"/>
<line x1="371.00" y1="122.21" x2="365.50" y2="122.21" stroke="#000" stroke-width="1.1"/>
<line x1="45.50" y1="109.61" x2="51.00" y2="109.61" stroke="#000" stroke-width="1.1"/>
<line x1="371.00" y1="109.61" x2="365.50" y2="109.61" stroke="#000" stroke-width="1.1"/>
<line x1="45.50" y1="99.84" x2="51.00" y2="99.84" stroke="#000" stroke-width="1.1"/>
<line x1="371.00" y1="99.84" x2="365.50" y2="99.84" stroke="#000" stroke-width="1.1"/>
<line x1="45.50" y1="91.86" x2="51.00" y2="91.86" stroke="#000" stroke-width="1.1"/>
<line x1="371.00" y1="91.86" x2="365.50" y2="91.86" stroke="#000" stroke-width="1.1"/>
<line x1="45.50" y1="85.11" x2="51.00" y2="85.11" stroke="#000" stroke-width="1.1"/>
<line x1="371.00" y1="85.11" x2="365.50" y2="85.11" stroke="#000" stroke-width="1.1"/>
<line x1="45.50" y1="79.27" x2="51.00" y2="79.27" stroke="#000" stroke-width="1.1"/>
<line x1="371.00" y1="79.27" x2="365.50" y2="79.27" stroke="#000" stroke-width="1.1"/>
<line x1="45.50" y1="74.11" x2="51.00" y2="74.11" stroke="#000" stroke-width="1.1"/>
<line x1="371.00" y1="74.11" x2="365.50" y2="74.11" stroke="#000" stroke-width="1.1"/>
<line x1="45.50" y1="69.50" x2="56.50" y2="69.50" stroke="#000" stroke-width="1.1"/>
<line x1="371.00" y1="69.50" x2="360.00" y2="69.50" stroke="#000" stroke-width="1.1"/>
<line x1="45.50" y1="39.16" x2="51.00" y2="39.16" stroke="#000" stroke-width="1.1"/>
<line x1="371.00" y1="39.16" x2="365.50" y2="39.16" stroke="#000" stroke-width="1.1"/>
<line x1="45.50" y1="21.41" x2="51.00" y2="21.41" stroke="#000" stroke-width="1.1"/>
<line x1="371.00" y1="21.41" x2="365.50" y2="21.41" stroke="#000" stroke-width="1.1"/>
<line x1="45.50" y1="477.87" x2="50.50" y2="477.87" stroke="#000" stroke-width="1.1"/>
<line x1="371.00" y1="477.87" x2="366.00" y2="477.87" stroke="#000" stroke-width="1.1"/>
<line x1="45.50" y1="458.37" x2="52.50" y2="458.37" stroke="#000" stroke-width="1.1"/>
<line x1="371.00" y1="458.37" x2="364.00" y2="458.37" stroke="#000" stroke-width="1.1"/>
<line x1="45.50" y1="442.44" x2="50.50" y2="442.44" stroke="#000" stroke-width="1.1"/>
<line x1="371.00" y1="442.44" x2="366.00" y2="442.44" stroke="#000" stroke-width="1.1"/>
<line x1="45.50" y1="428.97" x2="50.50" y2="428.97" stroke="#000" stroke-width="1.1"/>
<line x1="371.00" y1="428.97" x2="366.00" y2="428.97" stroke="#000" stroke-width="1.1"/>
<line x1="45.50" y1="417.30" x2="50.50" y2="417.30" stroke="#000" stroke-width="1.1"/>
<line x1="371.00" y1="417.30" x2="366.00" y2="417.30" stroke="#000" stroke-width="1.1"/>
<line x1="45.50" y1="407.01" x2="50.50" y2="407.01" stroke="#000" stroke-width="1.1"/>
<line x1="371.00" y1="407.01" x2="366.00" y2="407.01" stroke="#000" stroke-width="1.1"/>
<line x1="45.50" y1="397.80" x2="52.50" y2="397.80" stroke="#000" stroke-width="1.1"/>
<line x1="371.00" y1="397.80" x2="364.00" y2="397.80" stroke="#000" stroke-width="1.1"/>
<line x1="45.50" y1="389.47" x2="50.50" y2="389.47" stroke="#000" stroke-width="1.1"/>
<line x1="371.00" y1="389.47" x2="366.00" y2="389.47" stroke="#000" stroke-width="1.1"/>
<line x1="45.50" y1="381.87" x2="50.50" y2="381.87" stroke="#000" stroke-width="1.1"/>
<line x1="371.00" y1="381.87" x2="366.00" y2="381.87" stroke="#000" stroke-width="1.1"/>
<line x1="45.50" y1="374.87" x2="50.50" y2="374.87" stroke="#000" stroke-width="1.1"/>
<line x1="371.00" y1="374.87" x2="366.00" y2="374.87" stroke="#000" stroke-width="1.1"/>
<line x1="45.50" y1="368.40" x2="50.50" y2="368.40" stroke="#000" stroke-width="1.1"/>
<line x1="371.00" y1="368.40" x2="366.00" y2="368.40" stroke="#000" stroke-width="1.1"/>
<line x1="45.50" y1="362.37" x2="50.50" y2="362.37" stroke="#000" stroke-width="1.1"/>
<line x1="371.00" y1="362.37" x2="366.00" y2="362.37" stroke="#000" stroke-width="1.1"/>
<line x1="45.50" y1="356.73" x2="50.50" y2="356.73" stroke="#000" stroke-width="1.1"/>
<line x1="371.00" y1="356.73" x2="366.00" y2="356.73" stroke="#000" stroke-width="1.1"/>
<line x1="45.50" y1="351.43" x2="50.50" y2="351.43" stroke="#000" stroke-width="1.1"/>
<line x1="371.00" y1="351.43" x2="366.00" y2="351.43" stroke="#000" stroke-width="1.1"/>
<line x1="45.50" y1="346.44" x2="50.50" y2="346.44" stroke="#000" stroke-width="1.1"/>
<line x1="371.00" y1="346.44" x2="366.00" y2="346.44" stroke="#000" stroke-width="1.1"/>
<line x1="45.50" y1="341.71" x2="50.50" y2="341.71" stroke="#000" stroke-width="1.1"/>
<line x1="371.00" y1="341.71" x2="366.00" y2="341.71" stroke="#000" stroke-width="1.1"/>
<line x1="45.50" y1="337.23" x2="52.50" y2="337.23" stroke="#000" stroke-width="1.1"/>
<line x1="371.00" y1="337.23" x2="364.00" y2="337.23" stroke="#000" stroke-width="1.1"/>
<line x1="45.50" y1="332.97" x2="50.50" y2="332.97" stroke="#000" stroke-width="1.1"/>
<line x1="371.00" y1="332.97" x2="366.00" y2="332.97" stroke="#000" stroke-width="1.1"/>
<line x1="45.50" y1="328.90" x2="50.50" y2="328.90" stroke="#000" stroke-width="1.1"/>
<line x1="371.00" y1="328.90" x2="366.00" y2="328.90" stroke="#000" stroke-width="1.1"/>
<line x1="45.50" y1="325.02" x2="50.50" y2="325.02" stroke="#000" stroke-width="1.1"/>
<line x1="371.00" y1="325.02" x2="366.00" y2="325.02" stroke="#000" stroke-width="1.1"/>
<line x1="45.50" y1="321.30" x2="50.50" y2="321.30" stroke="#000" stroke-width="1.1"/>
<line x1="371.00" y1="321.30" x2="366.00" y2="321.30" stroke="#000" stroke-width="1.1"/>
<line x1="45.50" y1="317.73" x2="50.50" y2="317.73" stroke="#000" stroke-width="1.1"/>
<line x1="371.00" y1="317.73" x2="366.00" y2="317.73" stroke="#000" stroke-width="1.1"/>
<path d="M45.65 16.95 V478.7" stroke="#000" stroke-width="1.2" fill="none"/>
<path d="M371.0 16.95 V478.7" stroke="#000" stroke-width="1.7" fill="none"/>
<path d="M45.05 17.5 H371.85" stroke="#000" stroke-width="1.1" fill="none"/>
<path d="M45.05 317.5 H371.85" stroke="#000" stroke-width="1.1" fill="none"/>
<path d="M45.05 477.8 H371.85" stroke="#000" stroke-width="1.8" fill="none"/>
<rect x="73.50" y="59.30" width="6.0" height="6.0" fill="#000"/>
<line x1="64" y1="75.1" x2="87.5" y2="75.1" stroke="#c0284c" stroke-width="1.0" stroke-dasharray="2.4 2"/>
<circle cx="76.50" cy="75.10" r="2.3" fill="none" stroke="#c0284c" stroke-width="1.1"/>
<line x1="64" y1="88.05" x2="87.5" y2="88.05" stroke="#b5852a" stroke-width="1.0" stroke-dasharray="1 1.05"/>
<rect x="74.00" y="85.55" width="5.0" height="5.0" fill="none" stroke="#b5852a" stroke-width="1.1"/>
<line x1="64" y1="101.0" x2="87.5" y2="101.0" stroke="#a8183a" stroke-width="1.0"/>
<path d="M76.50 98.55 L79.55 103.45 L73.45 103.45 Z" fill="none" stroke="#a8183a" stroke-width="1.1" stroke-linejoin="miter"/>
<line x1="64" y1="114.45" x2="87.5" y2="114.45" stroke="#ff8030" stroke-width="1.0" stroke-dasharray="3.8 1.6 0.9 1.6"/>
<rect x="74.20" y="112.15" width="4.6" height="4.6" fill="#ff8030"/>
<line x1="64" y1="127.45" x2="87.5" y2="127.45" stroke="#0000f0" stroke-width="1.0"/>
<path d="M76.50 125.10 L79.20 129.80 L73.80 129.80 Z" fill="#0000f0" stroke="#0000f0" stroke-width="0.6"/>
<text x="94" y="64.9" font-size="9.55">ATLAS</text>
<text x="94" y="77.9" font-size="9.55">Pythia 6.428 345</text>
<text x="94" y="90.9" font-size="9.55">Pythia 6.428 346</text>
<text x="94" y="103.9" font-size="9.55">Pythia 6.428 370</text>
<text x="94" y="116.9" font-size="9.55">Pythia 6.428 default</text>
<text x="94" y="129.9" font-size="9.55">Pythia 8.315 default</text>
<g font-family="Liberation Sans, sans-serif" fill="#000"><text x="51" y="13.7" font-size="12" letter-spacing="0.11">13000 GeV pp</text>
<text x="364.9" y="13.7" font-size="12" text-anchor="end">Z+Jet</text>
<text x="131.4" y="43.8" font-size="12" letter-spacing="0.6">Z</text>
<line x1="145.2" y1="41.0" x2="155.2" y2="41.0" stroke="#333" stroke-width="0.85"/>
<path d="M153.0 38.0 Q154.2 40.3 155.9 41.0 Q154.2 41.7 153.0 44.0" fill="none" stroke="#000" stroke-width="0.9"/>
<text x="164.1" y="43.8" font-size="12">#ell</text>
<path d="M183.6 34.0 V37.8 M181.9 36.1 H185.3" stroke="#000" stroke-width="0.7" fill="none"/>
<text x="189.7" y="43.8" font-size="12">#ell</text>
<path d="M206.3 34.7 L208.6 34.1" stroke="#000" stroke-width="0.75" fill="none"/>
<text x="209.4" y="43.8" font-size="12">,</text>
<text x="215.3" y="43.9" font-size="12.1">dressed level</text>
<text x="207.1" y="301.9" font-size="8" fill="#aaaaaa" text-anchor="middle">(ATLAS_2017_I1514251)</text>
<text x="34.7" y="74.9" font-size="10.8" text-anchor="end">10</text>
<text x="34.9" y="69.8" font-size="7.3">2</text>
<text x="40.1" y="174.7" font-size="11.6" text-anchor="end">10</text>
<text x="39.6" y="275.8" font-size="11.6" text-anchor="end">1</text>
<text x="38.4" y="341.4" font-size="11.7" text-anchor="end">2</text>
<text x="373.4" y="341.4" font-size="11.7">2</text>
<text x="38.4" y="402.0" font-size="11.7" text-anchor="end">1</text>
<text x="373.4" y="402.0" font-size="11.7">1</text>
<text x="38.4" y="462.6" font-size="11.7" text-anchor="end">0.5</text>
<text x="373.4" y="462.6" font-size="11.7">0.5</text>
<text x="51.2" y="489" font-size="11.7" text-anchor="middle">0</text>
<text x="150.9" y="489" font-size="11.7" text-anchor="middle">1</text>
<text x="250.5" y="489" font-size="11.7" text-anchor="middle">2</text>
<text x="350.2" y="489" font-size="11.7" text-anchor="middle">3</text>
<text x="373.5" y="503.8" font-size="12.4" text-anchor="end">Δϕ(leading, second jet)</text>
<text transform="translate(16.0,17.1) rotate(-90)" font-size="11.5" text-anchor="end">dσ/dΔϕ [pb]</text>
<text transform="translate(17.9,366) rotate(-90)" font-size="9.1" text-anchor="end">Ratio to ATLAS</text>
<text transform="translate(380.6,126.9) rotate(-90)" font-size="9.5" fill="#8a8a8a" textLength="108.2" lengthAdjust="spacing">Rivet 4.1.0, ≥ 100k events</text>
<text transform="translate(380.6,313.6) rotate(-90)" font-size="9.45" fill="#8a8a8a" textLength="146.8" lengthAdjust="spacing">mcplots.cern.ch [arXiv:2401.10621]</text></g>
</svg>
</body></html>
